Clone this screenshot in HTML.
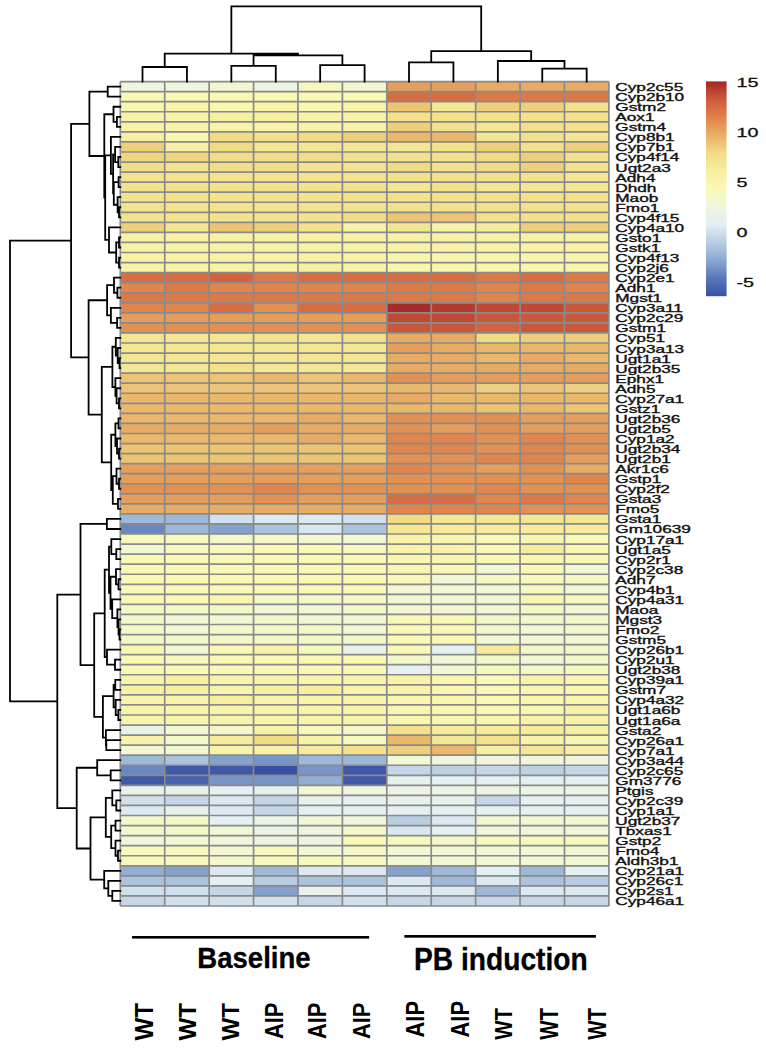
<!DOCTYPE html><html><head><meta charset="utf-8"><style>html,body{margin:0;padding:0;background:#fff;width:766px;height:1050px;overflow:hidden}svg{display:block}text{font-family:"Liberation Sans",sans-serif}</style></head><body>
<svg width="766" height="1050" viewBox="0 0 766 1050">
<g shape-rendering="crispEdges">
<rect x="120.30" y="81.60" width="44.42" height="10.05" fill="#eff6dd"/>
<rect x="164.72" y="81.60" width="44.42" height="10.05" fill="#eff6dd"/>
<rect x="209.14" y="81.60" width="44.42" height="10.05" fill="#f3f7cf"/>
<rect x="253.55" y="81.60" width="44.42" height="10.05" fill="#ecf4e4"/>
<rect x="297.97" y="81.60" width="44.42" height="10.05" fill="#f6f8c3"/>
<rect x="342.39" y="81.60" width="44.42" height="10.05" fill="#f3f7cf"/>
<rect x="386.81" y="81.60" width="44.42" height="10.05" fill="#e59e5b"/>
<rect x="431.23" y="81.60" width="44.42" height="10.05" fill="#e59e5b"/>
<rect x="475.65" y="81.60" width="44.42" height="10.05" fill="#e7ab63"/>
<rect x="520.06" y="81.60" width="44.42" height="10.05" fill="#e7ab63"/>
<rect x="564.48" y="81.60" width="44.42" height="10.05" fill="#e7ab63"/>
<rect x="120.30" y="91.65" width="44.42" height="10.05" fill="#f9f8b5"/>
<rect x="164.72" y="91.65" width="44.42" height="10.05" fill="#f9f8b5"/>
<rect x="209.14" y="91.65" width="44.42" height="10.05" fill="#f9f8b5"/>
<rect x="253.55" y="91.65" width="44.42" height="10.05" fill="#f9f8b5"/>
<rect x="297.97" y="91.65" width="44.42" height="10.05" fill="#f9f8b5"/>
<rect x="342.39" y="91.65" width="44.42" height="10.05" fill="#f9f8b5"/>
<rect x="386.81" y="91.65" width="44.42" height="10.05" fill="#d76e43"/>
<rect x="431.23" y="91.65" width="44.42" height="10.05" fill="#d76e43"/>
<rect x="475.65" y="91.65" width="44.42" height="10.05" fill="#dd7947"/>
<rect x="520.06" y="91.65" width="44.42" height="10.05" fill="#dd7947"/>
<rect x="564.48" y="91.65" width="44.42" height="10.05" fill="#dd7947"/>
<rect x="120.30" y="101.71" width="44.42" height="10.05" fill="#f8f6af"/>
<rect x="164.72" y="101.71" width="44.42" height="10.05" fill="#f8f3a9"/>
<rect x="209.14" y="101.71" width="44.42" height="10.05" fill="#f8f6af"/>
<rect x="253.55" y="101.71" width="44.42" height="10.05" fill="#f8f3a9"/>
<rect x="297.97" y="101.71" width="44.42" height="10.05" fill="#f8f6af"/>
<rect x="342.39" y="101.71" width="44.42" height="10.05" fill="#f8f3a9"/>
<rect x="386.81" y="101.71" width="44.42" height="10.05" fill="#ecc473"/>
<rect x="431.23" y="101.71" width="44.42" height="10.05" fill="#f4e794"/>
<rect x="475.65" y="101.71" width="44.42" height="10.05" fill="#eed07c"/>
<rect x="520.06" y="101.71" width="44.42" height="10.05" fill="#eed07c"/>
<rect x="564.48" y="101.71" width="44.42" height="10.05" fill="#f3e18c"/>
<rect x="120.30" y="111.76" width="44.42" height="10.05" fill="#f8f3a9"/>
<rect x="164.72" y="111.76" width="44.42" height="10.05" fill="#f8f3a9"/>
<rect x="209.14" y="111.76" width="44.42" height="10.05" fill="#f7f0a2"/>
<rect x="253.55" y="111.76" width="44.42" height="10.05" fill="#f7f0a2"/>
<rect x="297.97" y="111.76" width="44.42" height="10.05" fill="#f8f3a9"/>
<rect x="342.39" y="111.76" width="44.42" height="10.05" fill="#f8f3a9"/>
<rect x="386.81" y="111.76" width="44.42" height="10.05" fill="#f3e18c"/>
<rect x="431.23" y="111.76" width="44.42" height="10.05" fill="#f3e18c"/>
<rect x="475.65" y="111.76" width="44.42" height="10.05" fill="#f3e18c"/>
<rect x="520.06" y="111.76" width="44.42" height="10.05" fill="#f3e18c"/>
<rect x="564.48" y="111.76" width="44.42" height="10.05" fill="#f3e18c"/>
<rect x="120.30" y="121.81" width="44.42" height="10.05" fill="#f8f3a9"/>
<rect x="164.72" y="121.81" width="44.42" height="10.05" fill="#f8f3a9"/>
<rect x="209.14" y="121.81" width="44.42" height="10.05" fill="#f8f3a9"/>
<rect x="253.55" y="121.81" width="44.42" height="10.05" fill="#f8f3a9"/>
<rect x="297.97" y="121.81" width="44.42" height="10.05" fill="#f8f3a9"/>
<rect x="342.39" y="121.81" width="44.42" height="10.05" fill="#f8f3a9"/>
<rect x="386.81" y="121.81" width="44.42" height="10.05" fill="#eed07c"/>
<rect x="431.23" y="121.81" width="44.42" height="10.05" fill="#f3e18c"/>
<rect x="475.65" y="121.81" width="44.42" height="10.05" fill="#f4e794"/>
<rect x="520.06" y="121.81" width="44.42" height="10.05" fill="#f3e18c"/>
<rect x="564.48" y="121.81" width="44.42" height="10.05" fill="#f3e18c"/>
<rect x="120.30" y="131.87" width="44.42" height="10.05" fill="#f7f0a2"/>
<rect x="164.72" y="131.87" width="44.42" height="10.05" fill="#f8f6af"/>
<rect x="209.14" y="131.87" width="44.42" height="10.05" fill="#f1dc84"/>
<rect x="253.55" y="131.87" width="44.42" height="10.05" fill="#f3e18c"/>
<rect x="297.97" y="131.87" width="44.42" height="10.05" fill="#f1dc84"/>
<rect x="342.39" y="131.87" width="44.42" height="10.05" fill="#eed07c"/>
<rect x="386.81" y="131.87" width="44.42" height="10.05" fill="#eab76b"/>
<rect x="431.23" y="131.87" width="44.42" height="10.05" fill="#eab76b"/>
<rect x="475.65" y="131.87" width="44.42" height="10.05" fill="#f4e794"/>
<rect x="520.06" y="131.87" width="44.42" height="10.05" fill="#f3e18c"/>
<rect x="564.48" y="131.87" width="44.42" height="10.05" fill="#f4e794"/>
<rect x="120.30" y="141.92" width="44.42" height="10.05" fill="#eed07c"/>
<rect x="164.72" y="141.92" width="44.42" height="10.05" fill="#f7f0a2"/>
<rect x="209.14" y="141.92" width="44.42" height="10.05" fill="#f1dc84"/>
<rect x="253.55" y="141.92" width="44.42" height="10.05" fill="#f4e794"/>
<rect x="297.97" y="141.92" width="44.42" height="10.05" fill="#f4e794"/>
<rect x="342.39" y="141.92" width="44.42" height="10.05" fill="#f4e794"/>
<rect x="386.81" y="141.92" width="44.42" height="10.05" fill="#f4e794"/>
<rect x="431.23" y="141.92" width="44.42" height="10.05" fill="#f3e18c"/>
<rect x="475.65" y="141.92" width="44.42" height="10.05" fill="#eed07c"/>
<rect x="520.06" y="141.92" width="44.42" height="10.05" fill="#f3e18c"/>
<rect x="564.48" y="141.92" width="44.42" height="10.05" fill="#eed07c"/>
<rect x="120.30" y="151.98" width="44.42" height="10.05" fill="#f0d57f"/>
<rect x="164.72" y="151.98" width="44.42" height="10.05" fill="#f0d57f"/>
<rect x="209.14" y="151.98" width="44.42" height="10.05" fill="#f2de87"/>
<rect x="253.55" y="151.98" width="44.42" height="10.05" fill="#f2de87"/>
<rect x="297.97" y="151.98" width="44.42" height="10.05" fill="#f2de87"/>
<rect x="342.39" y="151.98" width="44.42" height="10.05" fill="#f3e38f"/>
<rect x="386.81" y="151.98" width="44.42" height="10.05" fill="#f3e18c"/>
<rect x="431.23" y="151.98" width="44.42" height="10.05" fill="#f3e18c"/>
<rect x="475.65" y="151.98" width="44.42" height="10.05" fill="#f1dc84"/>
<rect x="520.06" y="151.98" width="44.42" height="10.05" fill="#eed07c"/>
<rect x="564.48" y="151.98" width="44.42" height="10.05" fill="#f3e18c"/>
<rect x="120.30" y="162.03" width="44.42" height="10.05" fill="#f2de87"/>
<rect x="164.72" y="162.03" width="44.42" height="10.05" fill="#f3e38f"/>
<rect x="209.14" y="162.03" width="44.42" height="10.05" fill="#f2de87"/>
<rect x="253.55" y="162.03" width="44.42" height="10.05" fill="#f2de87"/>
<rect x="297.97" y="162.03" width="44.42" height="10.05" fill="#f3e38f"/>
<rect x="342.39" y="162.03" width="44.42" height="10.05" fill="#f3e38f"/>
<rect x="386.81" y="162.03" width="44.42" height="10.05" fill="#f1dc84"/>
<rect x="431.23" y="162.03" width="44.42" height="10.05" fill="#f3e18c"/>
<rect x="475.65" y="162.03" width="44.42" height="10.05" fill="#f1dc84"/>
<rect x="520.06" y="162.03" width="44.42" height="10.05" fill="#eed07c"/>
<rect x="564.48" y="162.03" width="44.42" height="10.05" fill="#f3e18c"/>
<rect x="120.30" y="172.08" width="44.42" height="10.05" fill="#f3e38f"/>
<rect x="164.72" y="172.08" width="44.42" height="10.05" fill="#f3e38f"/>
<rect x="209.14" y="172.08" width="44.42" height="10.05" fill="#f3e38f"/>
<rect x="253.55" y="172.08" width="44.42" height="10.05" fill="#f3e38f"/>
<rect x="297.97" y="172.08" width="44.42" height="10.05" fill="#f3e38f"/>
<rect x="342.39" y="172.08" width="44.42" height="10.05" fill="#f3e38f"/>
<rect x="386.81" y="172.08" width="44.42" height="10.05" fill="#f3e18c"/>
<rect x="431.23" y="172.08" width="44.42" height="10.05" fill="#f3e18c"/>
<rect x="475.65" y="172.08" width="44.42" height="10.05" fill="#f3e18c"/>
<rect x="520.06" y="172.08" width="44.42" height="10.05" fill="#f3e18c"/>
<rect x="564.48" y="172.08" width="44.42" height="10.05" fill="#f4e794"/>
<rect x="120.30" y="182.14" width="44.42" height="10.05" fill="#f3e38f"/>
<rect x="164.72" y="182.14" width="44.42" height="10.05" fill="#f3e38f"/>
<rect x="209.14" y="182.14" width="44.42" height="10.05" fill="#f3e38f"/>
<rect x="253.55" y="182.14" width="44.42" height="10.05" fill="#f3e38f"/>
<rect x="297.97" y="182.14" width="44.42" height="10.05" fill="#f3e38f"/>
<rect x="342.39" y="182.14" width="44.42" height="10.05" fill="#f3e38f"/>
<rect x="386.81" y="182.14" width="44.42" height="10.05" fill="#f4e794"/>
<rect x="431.23" y="182.14" width="44.42" height="10.05" fill="#f3e18c"/>
<rect x="475.65" y="182.14" width="44.42" height="10.05" fill="#f4e794"/>
<rect x="520.06" y="182.14" width="44.42" height="10.05" fill="#f4e794"/>
<rect x="564.48" y="182.14" width="44.42" height="10.05" fill="#f4e794"/>
<rect x="120.30" y="192.19" width="44.42" height="10.05" fill="#f3e38f"/>
<rect x="164.72" y="192.19" width="44.42" height="10.05" fill="#f3e38f"/>
<rect x="209.14" y="192.19" width="44.42" height="10.05" fill="#f3e38f"/>
<rect x="253.55" y="192.19" width="44.42" height="10.05" fill="#f3e38f"/>
<rect x="297.97" y="192.19" width="44.42" height="10.05" fill="#f3e38f"/>
<rect x="342.39" y="192.19" width="44.42" height="10.05" fill="#f3e38f"/>
<rect x="386.81" y="192.19" width="44.42" height="10.05" fill="#f3e18c"/>
<rect x="431.23" y="192.19" width="44.42" height="10.05" fill="#f3e18c"/>
<rect x="475.65" y="192.19" width="44.42" height="10.05" fill="#f3e18c"/>
<rect x="520.06" y="192.19" width="44.42" height="10.05" fill="#f3e18c"/>
<rect x="564.48" y="192.19" width="44.42" height="10.05" fill="#f3e18c"/>
<rect x="120.30" y="202.24" width="44.42" height="10.05" fill="#f3e38f"/>
<rect x="164.72" y="202.24" width="44.42" height="10.05" fill="#f3e38f"/>
<rect x="209.14" y="202.24" width="44.42" height="10.05" fill="#f3e38f"/>
<rect x="253.55" y="202.24" width="44.42" height="10.05" fill="#f3e38f"/>
<rect x="297.97" y="202.24" width="44.42" height="10.05" fill="#f3e38f"/>
<rect x="342.39" y="202.24" width="44.42" height="10.05" fill="#f3e38f"/>
<rect x="386.81" y="202.24" width="44.42" height="10.05" fill="#f3e18c"/>
<rect x="431.23" y="202.24" width="44.42" height="10.05" fill="#f3e18c"/>
<rect x="475.65" y="202.24" width="44.42" height="10.05" fill="#f3e18c"/>
<rect x="520.06" y="202.24" width="44.42" height="10.05" fill="#f3e18c"/>
<rect x="564.48" y="202.24" width="44.42" height="10.05" fill="#f3e18c"/>
<rect x="120.30" y="212.30" width="44.42" height="10.05" fill="#f3e38f"/>
<rect x="164.72" y="212.30" width="44.42" height="10.05" fill="#f3e38f"/>
<rect x="209.14" y="212.30" width="44.42" height="10.05" fill="#f3e38f"/>
<rect x="253.55" y="212.30" width="44.42" height="10.05" fill="#f3e38f"/>
<rect x="297.97" y="212.30" width="44.42" height="10.05" fill="#f3e38f"/>
<rect x="342.39" y="212.30" width="44.42" height="10.05" fill="#f2de87"/>
<rect x="386.81" y="212.30" width="44.42" height="10.05" fill="#ecc473"/>
<rect x="431.23" y="212.30" width="44.42" height="10.05" fill="#ecc473"/>
<rect x="475.65" y="212.30" width="44.42" height="10.05" fill="#f3e18c"/>
<rect x="520.06" y="212.30" width="44.42" height="10.05" fill="#f3e18c"/>
<rect x="564.48" y="212.30" width="44.42" height="10.05" fill="#f3e18c"/>
<rect x="120.30" y="222.35" width="44.42" height="10.05" fill="#eed07c"/>
<rect x="164.72" y="222.35" width="44.42" height="10.05" fill="#f4e794"/>
<rect x="209.14" y="222.35" width="44.42" height="10.05" fill="#ecc473"/>
<rect x="253.55" y="222.35" width="44.42" height="10.05" fill="#eed07c"/>
<rect x="297.97" y="222.35" width="44.42" height="10.05" fill="#f3e18c"/>
<rect x="342.39" y="222.35" width="44.42" height="10.05" fill="#f8f3a9"/>
<rect x="386.81" y="222.35" width="44.42" height="10.05" fill="#f4e794"/>
<rect x="431.23" y="222.35" width="44.42" height="10.05" fill="#f8f3a9"/>
<rect x="475.65" y="222.35" width="44.42" height="10.05" fill="#f6ec9b"/>
<rect x="520.06" y="222.35" width="44.42" height="10.05" fill="#eed07c"/>
<rect x="564.48" y="222.35" width="44.42" height="10.05" fill="#eed07c"/>
<rect x="120.30" y="232.40" width="44.42" height="10.05" fill="#f8f2a7"/>
<rect x="164.72" y="232.40" width="44.42" height="10.05" fill="#f8f2a7"/>
<rect x="209.14" y="232.40" width="44.42" height="10.05" fill="#f8f2a7"/>
<rect x="253.55" y="232.40" width="44.42" height="10.05" fill="#f8f2a7"/>
<rect x="297.97" y="232.40" width="44.42" height="10.05" fill="#f8f2a7"/>
<rect x="342.39" y="232.40" width="44.42" height="10.05" fill="#f8f2a7"/>
<rect x="386.81" y="232.40" width="44.42" height="10.05" fill="#f8f2a7"/>
<rect x="431.23" y="232.40" width="44.42" height="10.05" fill="#f8f2a7"/>
<rect x="475.65" y="232.40" width="44.42" height="10.05" fill="#f8f2a7"/>
<rect x="520.06" y="232.40" width="44.42" height="10.05" fill="#f8f2a7"/>
<rect x="564.48" y="232.40" width="44.42" height="10.05" fill="#f8f2a7"/>
<rect x="120.30" y="242.46" width="44.42" height="10.05" fill="#f8f2a7"/>
<rect x="164.72" y="242.46" width="44.42" height="10.05" fill="#f8f2a7"/>
<rect x="209.14" y="242.46" width="44.42" height="10.05" fill="#f8f2a7"/>
<rect x="253.55" y="242.46" width="44.42" height="10.05" fill="#f8f2a7"/>
<rect x="297.97" y="242.46" width="44.42" height="10.05" fill="#f8f2a7"/>
<rect x="342.39" y="242.46" width="44.42" height="10.05" fill="#f8f2a7"/>
<rect x="386.81" y="242.46" width="44.42" height="10.05" fill="#f8f2a7"/>
<rect x="431.23" y="242.46" width="44.42" height="10.05" fill="#f8f2a7"/>
<rect x="475.65" y="242.46" width="44.42" height="10.05" fill="#f8f2a7"/>
<rect x="520.06" y="242.46" width="44.42" height="10.05" fill="#f8f2a7"/>
<rect x="564.48" y="242.46" width="44.42" height="10.05" fill="#f8f2a7"/>
<rect x="120.30" y="252.51" width="44.42" height="10.05" fill="#f8f2a7"/>
<rect x="164.72" y="252.51" width="44.42" height="10.05" fill="#f8f2a7"/>
<rect x="209.14" y="252.51" width="44.42" height="10.05" fill="#f8f2a7"/>
<rect x="253.55" y="252.51" width="44.42" height="10.05" fill="#f8f2a7"/>
<rect x="297.97" y="252.51" width="44.42" height="10.05" fill="#f8f2a7"/>
<rect x="342.39" y="252.51" width="44.42" height="10.05" fill="#f8f2a7"/>
<rect x="386.81" y="252.51" width="44.42" height="10.05" fill="#f8f5ad"/>
<rect x="431.23" y="252.51" width="44.42" height="10.05" fill="#f8f5ad"/>
<rect x="475.65" y="252.51" width="44.42" height="10.05" fill="#f8f5ad"/>
<rect x="520.06" y="252.51" width="44.42" height="10.05" fill="#f8f5ad"/>
<rect x="564.48" y="252.51" width="44.42" height="10.05" fill="#f8f5ad"/>
<rect x="120.30" y="262.57" width="44.42" height="10.05" fill="#f8f2a7"/>
<rect x="164.72" y="262.57" width="44.42" height="10.05" fill="#f8f2a7"/>
<rect x="209.14" y="262.57" width="44.42" height="10.05" fill="#f8f2a7"/>
<rect x="253.55" y="262.57" width="44.42" height="10.05" fill="#f8f2a7"/>
<rect x="297.97" y="262.57" width="44.42" height="10.05" fill="#f7f0a1"/>
<rect x="342.39" y="262.57" width="44.42" height="10.05" fill="#f8f2a7"/>
<rect x="386.81" y="262.57" width="44.42" height="10.05" fill="#f8f5ad"/>
<rect x="431.23" y="262.57" width="44.42" height="10.05" fill="#f8f5ad"/>
<rect x="475.65" y="262.57" width="44.42" height="10.05" fill="#f8f5ad"/>
<rect x="520.06" y="262.57" width="44.42" height="10.05" fill="#f8f5ad"/>
<rect x="564.48" y="262.57" width="44.42" height="10.05" fill="#f8f5ad"/>
<rect x="120.30" y="272.62" width="44.42" height="10.05" fill="#d76e43"/>
<rect x="164.72" y="272.62" width="44.42" height="10.05" fill="#d76e43"/>
<rect x="209.14" y="272.62" width="44.42" height="10.05" fill="#d1633f"/>
<rect x="253.55" y="272.62" width="44.42" height="10.05" fill="#dd7947"/>
<rect x="297.97" y="272.62" width="44.42" height="10.05" fill="#d76e43"/>
<rect x="342.39" y="272.62" width="44.42" height="10.05" fill="#d76e43"/>
<rect x="386.81" y="272.62" width="44.42" height="10.05" fill="#d76e43"/>
<rect x="431.23" y="272.62" width="44.42" height="10.05" fill="#d76e43"/>
<rect x="475.65" y="272.62" width="44.42" height="10.05" fill="#dd7947"/>
<rect x="520.06" y="272.62" width="44.42" height="10.05" fill="#d76e43"/>
<rect x="564.48" y="272.62" width="44.42" height="10.05" fill="#dd7947"/>
<rect x="120.30" y="282.67" width="44.42" height="10.05" fill="#e1854c"/>
<rect x="164.72" y="282.67" width="44.42" height="10.05" fill="#dd7947"/>
<rect x="209.14" y="282.67" width="44.42" height="10.05" fill="#e1854c"/>
<rect x="253.55" y="282.67" width="44.42" height="10.05" fill="#e1854c"/>
<rect x="297.97" y="282.67" width="44.42" height="10.05" fill="#e1854c"/>
<rect x="342.39" y="282.67" width="44.42" height="10.05" fill="#e1854c"/>
<rect x="386.81" y="282.67" width="44.42" height="10.05" fill="#dd7947"/>
<rect x="431.23" y="282.67" width="44.42" height="10.05" fill="#dd7947"/>
<rect x="475.65" y="282.67" width="44.42" height="10.05" fill="#e1854c"/>
<rect x="520.06" y="282.67" width="44.42" height="10.05" fill="#dd7947"/>
<rect x="564.48" y="282.67" width="44.42" height="10.05" fill="#e1854c"/>
<rect x="120.30" y="292.73" width="44.42" height="10.05" fill="#dd7947"/>
<rect x="164.72" y="292.73" width="44.42" height="10.05" fill="#dd7947"/>
<rect x="209.14" y="292.73" width="44.42" height="10.05" fill="#dd7947"/>
<rect x="253.55" y="292.73" width="44.42" height="10.05" fill="#dd7947"/>
<rect x="297.97" y="292.73" width="44.42" height="10.05" fill="#dd7947"/>
<rect x="342.39" y="292.73" width="44.42" height="10.05" fill="#dd7947"/>
<rect x="386.81" y="292.73" width="44.42" height="10.05" fill="#dd7947"/>
<rect x="431.23" y="292.73" width="44.42" height="10.05" fill="#dd7947"/>
<rect x="475.65" y="292.73" width="44.42" height="10.05" fill="#e1854c"/>
<rect x="520.06" y="292.73" width="44.42" height="10.05" fill="#dd7947"/>
<rect x="564.48" y="292.73" width="44.42" height="10.05" fill="#dd7947"/>
<rect x="120.30" y="302.78" width="44.42" height="10.05" fill="#e1854c"/>
<rect x="164.72" y="302.78" width="44.42" height="10.05" fill="#e1854c"/>
<rect x="209.14" y="302.78" width="44.42" height="10.05" fill="#d76e43"/>
<rect x="253.55" y="302.78" width="44.42" height="10.05" fill="#e39153"/>
<rect x="297.97" y="302.78" width="44.42" height="10.05" fill="#d76e43"/>
<rect x="342.39" y="302.78" width="44.42" height="10.05" fill="#d76e43"/>
<rect x="386.81" y="302.78" width="44.42" height="10.05" fill="#a92b28"/>
<rect x="431.23" y="302.78" width="44.42" height="10.05" fill="#b53a2e"/>
<rect x="475.65" y="302.78" width="44.42" height="10.05" fill="#c04834"/>
<rect x="520.06" y="302.78" width="44.42" height="10.05" fill="#c04834"/>
<rect x="564.48" y="302.78" width="44.42" height="10.05" fill="#cb573b"/>
<rect x="120.30" y="312.83" width="44.42" height="10.05" fill="#e59e5b"/>
<rect x="164.72" y="312.83" width="44.42" height="10.05" fill="#e59e5b"/>
<rect x="209.14" y="312.83" width="44.42" height="10.05" fill="#e59e5b"/>
<rect x="253.55" y="312.83" width="44.42" height="10.05" fill="#e59e5b"/>
<rect x="297.97" y="312.83" width="44.42" height="10.05" fill="#e59e5b"/>
<rect x="342.39" y="312.83" width="44.42" height="10.05" fill="#e59e5b"/>
<rect x="386.81" y="312.83" width="44.42" height="10.05" fill="#c04834"/>
<rect x="431.23" y="312.83" width="44.42" height="10.05" fill="#c04834"/>
<rect x="475.65" y="312.83" width="44.42" height="10.05" fill="#cb573b"/>
<rect x="520.06" y="312.83" width="44.42" height="10.05" fill="#cb573b"/>
<rect x="564.48" y="312.83" width="44.42" height="10.05" fill="#cb573b"/>
<rect x="120.30" y="322.89" width="44.42" height="10.05" fill="#e39153"/>
<rect x="164.72" y="322.89" width="44.42" height="10.05" fill="#e39153"/>
<rect x="209.14" y="322.89" width="44.42" height="10.05" fill="#e39153"/>
<rect x="253.55" y="322.89" width="44.42" height="10.05" fill="#e39153"/>
<rect x="297.97" y="322.89" width="44.42" height="10.05" fill="#e39153"/>
<rect x="342.39" y="322.89" width="44.42" height="10.05" fill="#e39153"/>
<rect x="386.81" y="322.89" width="44.42" height="10.05" fill="#cb573b"/>
<rect x="431.23" y="322.89" width="44.42" height="10.05" fill="#cb573b"/>
<rect x="475.65" y="322.89" width="44.42" height="10.05" fill="#d1633f"/>
<rect x="520.06" y="322.89" width="44.42" height="10.05" fill="#cb573b"/>
<rect x="564.48" y="322.89" width="44.42" height="10.05" fill="#cb573b"/>
<rect x="120.30" y="332.94" width="44.42" height="10.05" fill="#f4e794"/>
<rect x="164.72" y="332.94" width="44.42" height="10.05" fill="#f4e794"/>
<rect x="209.14" y="332.94" width="44.42" height="10.05" fill="#f4e794"/>
<rect x="253.55" y="332.94" width="44.42" height="10.05" fill="#f3e18c"/>
<rect x="297.97" y="332.94" width="44.42" height="10.05" fill="#f4e794"/>
<rect x="342.39" y="332.94" width="44.42" height="10.05" fill="#f3e18c"/>
<rect x="386.81" y="332.94" width="44.42" height="10.05" fill="#e7ab63"/>
<rect x="431.23" y="332.94" width="44.42" height="10.05" fill="#e7ab63"/>
<rect x="475.65" y="332.94" width="44.42" height="10.05" fill="#f1dc84"/>
<rect x="520.06" y="332.94" width="44.42" height="10.05" fill="#eed07c"/>
<rect x="564.48" y="332.94" width="44.42" height="10.05" fill="#eed07c"/>
<rect x="120.30" y="343.00" width="44.42" height="10.05" fill="#f4e794"/>
<rect x="164.72" y="343.00" width="44.42" height="10.05" fill="#f4e794"/>
<rect x="209.14" y="343.00" width="44.42" height="10.05" fill="#f4e794"/>
<rect x="253.55" y="343.00" width="44.42" height="10.05" fill="#f4e794"/>
<rect x="297.97" y="343.00" width="44.42" height="10.05" fill="#f4e794"/>
<rect x="342.39" y="343.00" width="44.42" height="10.05" fill="#f4e794"/>
<rect x="386.81" y="343.00" width="44.42" height="10.05" fill="#e59e5b"/>
<rect x="431.23" y="343.00" width="44.42" height="10.05" fill="#e7ab63"/>
<rect x="475.65" y="343.00" width="44.42" height="10.05" fill="#eab76b"/>
<rect x="520.06" y="343.00" width="44.42" height="10.05" fill="#eab76b"/>
<rect x="564.48" y="343.00" width="44.42" height="10.05" fill="#eab76b"/>
<rect x="120.30" y="353.05" width="44.42" height="10.05" fill="#f4e794"/>
<rect x="164.72" y="353.05" width="44.42" height="10.05" fill="#f4e794"/>
<rect x="209.14" y="353.05" width="44.42" height="10.05" fill="#f4e794"/>
<rect x="253.55" y="353.05" width="44.42" height="10.05" fill="#f4e794"/>
<rect x="297.97" y="353.05" width="44.42" height="10.05" fill="#f4e794"/>
<rect x="342.39" y="353.05" width="44.42" height="10.05" fill="#f4e794"/>
<rect x="386.81" y="353.05" width="44.42" height="10.05" fill="#e7ab63"/>
<rect x="431.23" y="353.05" width="44.42" height="10.05" fill="#e7ab63"/>
<rect x="475.65" y="353.05" width="44.42" height="10.05" fill="#eab76b"/>
<rect x="520.06" y="353.05" width="44.42" height="10.05" fill="#e7ab63"/>
<rect x="564.48" y="353.05" width="44.42" height="10.05" fill="#eab76b"/>
<rect x="120.30" y="363.10" width="44.42" height="10.05" fill="#f4e794"/>
<rect x="164.72" y="363.10" width="44.42" height="10.05" fill="#f4e794"/>
<rect x="209.14" y="363.10" width="44.42" height="10.05" fill="#f3e18c"/>
<rect x="253.55" y="363.10" width="44.42" height="10.05" fill="#f4e794"/>
<rect x="297.97" y="363.10" width="44.42" height="10.05" fill="#f4e794"/>
<rect x="342.39" y="363.10" width="44.42" height="10.05" fill="#f4e794"/>
<rect x="386.81" y="363.10" width="44.42" height="10.05" fill="#e7ab63"/>
<rect x="431.23" y="363.10" width="44.42" height="10.05" fill="#e7ab63"/>
<rect x="475.65" y="363.10" width="44.42" height="10.05" fill="#e7ab63"/>
<rect x="520.06" y="363.10" width="44.42" height="10.05" fill="#e7ab63"/>
<rect x="564.48" y="363.10" width="44.42" height="10.05" fill="#e7ab63"/>
<rect x="120.30" y="373.16" width="44.42" height="10.05" fill="#ecc473"/>
<rect x="164.72" y="373.16" width="44.42" height="10.05" fill="#ecc473"/>
<rect x="209.14" y="373.16" width="44.42" height="10.05" fill="#ecc473"/>
<rect x="253.55" y="373.16" width="44.42" height="10.05" fill="#eab76b"/>
<rect x="297.97" y="373.16" width="44.42" height="10.05" fill="#ecc473"/>
<rect x="342.39" y="373.16" width="44.42" height="10.05" fill="#eab76b"/>
<rect x="386.81" y="373.16" width="44.42" height="10.05" fill="#e39153"/>
<rect x="431.23" y="373.16" width="44.42" height="10.05" fill="#e59e5b"/>
<rect x="475.65" y="373.16" width="44.42" height="10.05" fill="#e59e5b"/>
<rect x="520.06" y="373.16" width="44.42" height="10.05" fill="#e59e5b"/>
<rect x="564.48" y="373.16" width="44.42" height="10.05" fill="#e59e5b"/>
<rect x="120.30" y="383.21" width="44.42" height="10.05" fill="#ecc473"/>
<rect x="164.72" y="383.21" width="44.42" height="10.05" fill="#ecc473"/>
<rect x="209.14" y="383.21" width="44.42" height="10.05" fill="#ecc473"/>
<rect x="253.55" y="383.21" width="44.42" height="10.05" fill="#ecc473"/>
<rect x="297.97" y="383.21" width="44.42" height="10.05" fill="#ecc473"/>
<rect x="342.39" y="383.21" width="44.42" height="10.05" fill="#ecc473"/>
<rect x="386.81" y="383.21" width="44.42" height="10.05" fill="#eab76b"/>
<rect x="431.23" y="383.21" width="44.42" height="10.05" fill="#eab76b"/>
<rect x="475.65" y="383.21" width="44.42" height="10.05" fill="#eed07c"/>
<rect x="520.06" y="383.21" width="44.42" height="10.05" fill="#ecc473"/>
<rect x="564.48" y="383.21" width="44.42" height="10.05" fill="#eed07c"/>
<rect x="120.30" y="393.26" width="44.42" height="10.05" fill="#eab76b"/>
<rect x="164.72" y="393.26" width="44.42" height="10.05" fill="#eab76b"/>
<rect x="209.14" y="393.26" width="44.42" height="10.05" fill="#eab76b"/>
<rect x="253.55" y="393.26" width="44.42" height="10.05" fill="#eab76b"/>
<rect x="297.97" y="393.26" width="44.42" height="10.05" fill="#eab76b"/>
<rect x="342.39" y="393.26" width="44.42" height="10.05" fill="#eab76b"/>
<rect x="386.81" y="393.26" width="44.42" height="10.05" fill="#e7ab63"/>
<rect x="431.23" y="393.26" width="44.42" height="10.05" fill="#eab76b"/>
<rect x="475.65" y="393.26" width="44.42" height="10.05" fill="#eab76b"/>
<rect x="520.06" y="393.26" width="44.42" height="10.05" fill="#eab76b"/>
<rect x="564.48" y="393.26" width="44.42" height="10.05" fill="#eab76b"/>
<rect x="120.30" y="403.32" width="44.42" height="10.05" fill="#eab76b"/>
<rect x="164.72" y="403.32" width="44.42" height="10.05" fill="#eab76b"/>
<rect x="209.14" y="403.32" width="44.42" height="10.05" fill="#eab76b"/>
<rect x="253.55" y="403.32" width="44.42" height="10.05" fill="#eab76b"/>
<rect x="297.97" y="403.32" width="44.42" height="10.05" fill="#eab76b"/>
<rect x="342.39" y="403.32" width="44.42" height="10.05" fill="#eab76b"/>
<rect x="386.81" y="403.32" width="44.42" height="10.05" fill="#eab76b"/>
<rect x="431.23" y="403.32" width="44.42" height="10.05" fill="#eab76b"/>
<rect x="475.65" y="403.32" width="44.42" height="10.05" fill="#ecc473"/>
<rect x="520.06" y="403.32" width="44.42" height="10.05" fill="#eab76b"/>
<rect x="564.48" y="403.32" width="44.42" height="10.05" fill="#ecc473"/>
<rect x="120.30" y="413.37" width="44.42" height="10.05" fill="#eab76b"/>
<rect x="164.72" y="413.37" width="44.42" height="10.05" fill="#eab76b"/>
<rect x="209.14" y="413.37" width="44.42" height="10.05" fill="#eab76b"/>
<rect x="253.55" y="413.37" width="44.42" height="10.05" fill="#eab76b"/>
<rect x="297.97" y="413.37" width="44.42" height="10.05" fill="#e7ab63"/>
<rect x="342.39" y="413.37" width="44.42" height="10.05" fill="#eab76b"/>
<rect x="386.81" y="413.37" width="44.42" height="10.05" fill="#e39153"/>
<rect x="431.23" y="413.37" width="44.42" height="10.05" fill="#e39153"/>
<rect x="475.65" y="413.37" width="44.42" height="10.05" fill="#e39153"/>
<rect x="520.06" y="413.37" width="44.42" height="10.05" fill="#e59e5b"/>
<rect x="564.48" y="413.37" width="44.42" height="10.05" fill="#e59e5b"/>
<rect x="120.30" y="423.42" width="44.42" height="10.05" fill="#e7ab63"/>
<rect x="164.72" y="423.42" width="44.42" height="10.05" fill="#e7ab63"/>
<rect x="209.14" y="423.42" width="44.42" height="10.05" fill="#e7ab63"/>
<rect x="253.55" y="423.42" width="44.42" height="10.05" fill="#e59e5b"/>
<rect x="297.97" y="423.42" width="44.42" height="10.05" fill="#e7ab63"/>
<rect x="342.39" y="423.42" width="44.42" height="10.05" fill="#e7ab63"/>
<rect x="386.81" y="423.42" width="44.42" height="10.05" fill="#e39153"/>
<rect x="431.23" y="423.42" width="44.42" height="10.05" fill="#e59e5b"/>
<rect x="475.65" y="423.42" width="44.42" height="10.05" fill="#e39153"/>
<rect x="520.06" y="423.42" width="44.42" height="10.05" fill="#e59e5b"/>
<rect x="564.48" y="423.42" width="44.42" height="10.05" fill="#e59e5b"/>
<rect x="120.30" y="433.48" width="44.42" height="10.05" fill="#eab76b"/>
<rect x="164.72" y="433.48" width="44.42" height="10.05" fill="#eab76b"/>
<rect x="209.14" y="433.48" width="44.42" height="10.05" fill="#eab76b"/>
<rect x="253.55" y="433.48" width="44.42" height="10.05" fill="#eab76b"/>
<rect x="297.97" y="433.48" width="44.42" height="10.05" fill="#e7ab63"/>
<rect x="342.39" y="433.48" width="44.42" height="10.05" fill="#eab76b"/>
<rect x="386.81" y="433.48" width="44.42" height="10.05" fill="#e1854c"/>
<rect x="431.23" y="433.48" width="44.42" height="10.05" fill="#e1854c"/>
<rect x="475.65" y="433.48" width="44.42" height="10.05" fill="#e39153"/>
<rect x="520.06" y="433.48" width="44.42" height="10.05" fill="#e1854c"/>
<rect x="564.48" y="433.48" width="44.42" height="10.05" fill="#e39153"/>
<rect x="120.30" y="443.53" width="44.42" height="10.05" fill="#ecc473"/>
<rect x="164.72" y="443.53" width="44.42" height="10.05" fill="#ecc473"/>
<rect x="209.14" y="443.53" width="44.42" height="10.05" fill="#ecc473"/>
<rect x="253.55" y="443.53" width="44.42" height="10.05" fill="#ecc473"/>
<rect x="297.97" y="443.53" width="44.42" height="10.05" fill="#ecc473"/>
<rect x="342.39" y="443.53" width="44.42" height="10.05" fill="#ecc473"/>
<rect x="386.81" y="443.53" width="44.42" height="10.05" fill="#e1854c"/>
<rect x="431.23" y="443.53" width="44.42" height="10.05" fill="#e1854c"/>
<rect x="475.65" y="443.53" width="44.42" height="10.05" fill="#e39153"/>
<rect x="520.06" y="443.53" width="44.42" height="10.05" fill="#e1854c"/>
<rect x="564.48" y="443.53" width="44.42" height="10.05" fill="#e39153"/>
<rect x="120.30" y="453.59" width="44.42" height="10.05" fill="#ecc473"/>
<rect x="164.72" y="453.59" width="44.42" height="10.05" fill="#ecc473"/>
<rect x="209.14" y="453.59" width="44.42" height="10.05" fill="#ecc473"/>
<rect x="253.55" y="453.59" width="44.42" height="10.05" fill="#ecc473"/>
<rect x="297.97" y="453.59" width="44.42" height="10.05" fill="#ecc473"/>
<rect x="342.39" y="453.59" width="44.42" height="10.05" fill="#ecc473"/>
<rect x="386.81" y="453.59" width="44.42" height="10.05" fill="#e39153"/>
<rect x="431.23" y="453.59" width="44.42" height="10.05" fill="#e39153"/>
<rect x="475.65" y="453.59" width="44.42" height="10.05" fill="#e1854c"/>
<rect x="520.06" y="453.59" width="44.42" height="10.05" fill="#e1854c"/>
<rect x="564.48" y="453.59" width="44.42" height="10.05" fill="#e59e5b"/>
<rect x="120.30" y="463.64" width="44.42" height="10.05" fill="#e59e5b"/>
<rect x="164.72" y="463.64" width="44.42" height="10.05" fill="#e59e5b"/>
<rect x="209.14" y="463.64" width="44.42" height="10.05" fill="#e59e5b"/>
<rect x="253.55" y="463.64" width="44.42" height="10.05" fill="#e59e5b"/>
<rect x="297.97" y="463.64" width="44.42" height="10.05" fill="#e59e5b"/>
<rect x="342.39" y="463.64" width="44.42" height="10.05" fill="#e59e5b"/>
<rect x="386.81" y="463.64" width="44.42" height="10.05" fill="#e1854c"/>
<rect x="431.23" y="463.64" width="44.42" height="10.05" fill="#e39153"/>
<rect x="475.65" y="463.64" width="44.42" height="10.05" fill="#e59e5b"/>
<rect x="520.06" y="463.64" width="44.42" height="10.05" fill="#e39153"/>
<rect x="564.48" y="463.64" width="44.42" height="10.05" fill="#e7ab63"/>
<rect x="120.30" y="473.69" width="44.42" height="10.05" fill="#e59e5b"/>
<rect x="164.72" y="473.69" width="44.42" height="10.05" fill="#e59e5b"/>
<rect x="209.14" y="473.69" width="44.42" height="10.05" fill="#e59e5b"/>
<rect x="253.55" y="473.69" width="44.42" height="10.05" fill="#e59e5b"/>
<rect x="297.97" y="473.69" width="44.42" height="10.05" fill="#e59e5b"/>
<rect x="342.39" y="473.69" width="44.42" height="10.05" fill="#e59e5b"/>
<rect x="386.81" y="473.69" width="44.42" height="10.05" fill="#e39153"/>
<rect x="431.23" y="473.69" width="44.42" height="10.05" fill="#e39153"/>
<rect x="475.65" y="473.69" width="44.42" height="10.05" fill="#e39153"/>
<rect x="520.06" y="473.69" width="44.42" height="10.05" fill="#e39153"/>
<rect x="564.48" y="473.69" width="44.42" height="10.05" fill="#e1854c"/>
<rect x="120.30" y="483.75" width="44.42" height="10.05" fill="#e39153"/>
<rect x="164.72" y="483.75" width="44.42" height="10.05" fill="#e39153"/>
<rect x="209.14" y="483.75" width="44.42" height="10.05" fill="#e39153"/>
<rect x="253.55" y="483.75" width="44.42" height="10.05" fill="#e1854c"/>
<rect x="297.97" y="483.75" width="44.42" height="10.05" fill="#e39153"/>
<rect x="342.39" y="483.75" width="44.42" height="10.05" fill="#e39153"/>
<rect x="386.81" y="483.75" width="44.42" height="10.05" fill="#e39153"/>
<rect x="431.23" y="483.75" width="44.42" height="10.05" fill="#e39153"/>
<rect x="475.65" y="483.75" width="44.42" height="10.05" fill="#e1854c"/>
<rect x="520.06" y="483.75" width="44.42" height="10.05" fill="#e39153"/>
<rect x="564.48" y="483.75" width="44.42" height="10.05" fill="#e39153"/>
<rect x="120.30" y="493.80" width="44.42" height="10.05" fill="#e59e5b"/>
<rect x="164.72" y="493.80" width="44.42" height="10.05" fill="#e59e5b"/>
<rect x="209.14" y="493.80" width="44.42" height="10.05" fill="#e59e5b"/>
<rect x="253.55" y="493.80" width="44.42" height="10.05" fill="#e39153"/>
<rect x="297.97" y="493.80" width="44.42" height="10.05" fill="#e59e5b"/>
<rect x="342.39" y="493.80" width="44.42" height="10.05" fill="#e59e5b"/>
<rect x="386.81" y="493.80" width="44.42" height="10.05" fill="#d76e43"/>
<rect x="431.23" y="493.80" width="44.42" height="10.05" fill="#d76e43"/>
<rect x="475.65" y="493.80" width="44.42" height="10.05" fill="#e1854c"/>
<rect x="520.06" y="493.80" width="44.42" height="10.05" fill="#dd7947"/>
<rect x="564.48" y="493.80" width="44.42" height="10.05" fill="#e1854c"/>
<rect x="120.30" y="503.85" width="44.42" height="10.05" fill="#e7ab63"/>
<rect x="164.72" y="503.85" width="44.42" height="10.05" fill="#e7ab63"/>
<rect x="209.14" y="503.85" width="44.42" height="10.05" fill="#e7ab63"/>
<rect x="253.55" y="503.85" width="44.42" height="10.05" fill="#e7ab63"/>
<rect x="297.97" y="503.85" width="44.42" height="10.05" fill="#e7ab63"/>
<rect x="342.39" y="503.85" width="44.42" height="10.05" fill="#e7ab63"/>
<rect x="386.81" y="503.85" width="44.42" height="10.05" fill="#e1854c"/>
<rect x="431.23" y="503.85" width="44.42" height="10.05" fill="#e1854c"/>
<rect x="475.65" y="503.85" width="44.42" height="10.05" fill="#e1854c"/>
<rect x="520.06" y="503.85" width="44.42" height="10.05" fill="#e39153"/>
<rect x="564.48" y="503.85" width="44.42" height="10.05" fill="#e39153"/>
<rect x="120.30" y="513.91" width="44.42" height="10.05" fill="#9eb8d8"/>
<rect x="164.72" y="513.91" width="44.42" height="10.05" fill="#9eb8d8"/>
<rect x="209.14" y="513.91" width="44.42" height="10.05" fill="#d0e0ec"/>
<rect x="253.55" y="513.91" width="44.42" height="10.05" fill="#dce9f1"/>
<rect x="297.97" y="513.91" width="44.42" height="10.05" fill="#dce9f1"/>
<rect x="342.39" y="513.91" width="44.42" height="10.05" fill="#d0e0ec"/>
<rect x="386.81" y="513.91" width="44.42" height="10.05" fill="#f1dc84"/>
<rect x="431.23" y="513.91" width="44.42" height="10.05" fill="#f4e794"/>
<rect x="475.65" y="513.91" width="44.42" height="10.05" fill="#f4e794"/>
<rect x="520.06" y="513.91" width="44.42" height="10.05" fill="#f4e794"/>
<rect x="564.48" y="513.91" width="44.42" height="10.05" fill="#f4e794"/>
<rect x="120.30" y="523.96" width="44.42" height="10.05" fill="#6a87c0"/>
<rect x="164.72" y="523.96" width="44.42" height="10.05" fill="#9eb8d8"/>
<rect x="209.14" y="523.96" width="44.42" height="10.05" fill="#85a2cd"/>
<rect x="253.55" y="523.96" width="44.42" height="10.05" fill="#abc3dd"/>
<rect x="297.97" y="523.96" width="44.42" height="10.05" fill="#d7e6ef"/>
<rect x="342.39" y="523.96" width="44.42" height="10.05" fill="#abc3dd"/>
<rect x="386.81" y="523.96" width="44.42" height="10.05" fill="#f4e794"/>
<rect x="431.23" y="523.96" width="44.42" height="10.05" fill="#f6ec9b"/>
<rect x="475.65" y="523.96" width="44.42" height="10.05" fill="#f6ec9b"/>
<rect x="520.06" y="523.96" width="44.42" height="10.05" fill="#f6ec9b"/>
<rect x="564.48" y="523.96" width="44.42" height="10.05" fill="#f6ec9b"/>
<rect x="120.30" y="534.01" width="44.42" height="10.05" fill="#f7f8be"/>
<rect x="164.72" y="534.01" width="44.42" height="10.05" fill="#f7f8be"/>
<rect x="209.14" y="534.01" width="44.42" height="10.05" fill="#f4f8c9"/>
<rect x="253.55" y="534.01" width="44.42" height="10.05" fill="#f4f8c9"/>
<rect x="297.97" y="534.01" width="44.42" height="10.05" fill="#f2f7d4"/>
<rect x="342.39" y="534.01" width="44.42" height="10.05" fill="#f2f7d4"/>
<rect x="386.81" y="534.01" width="44.42" height="10.05" fill="#f8f3a9"/>
<rect x="431.23" y="534.01" width="44.42" height="10.05" fill="#f8f6af"/>
<rect x="475.65" y="534.01" width="44.42" height="10.05" fill="#f9f8b5"/>
<rect x="520.06" y="534.01" width="44.42" height="10.05" fill="#f8f6af"/>
<rect x="564.48" y="534.01" width="44.42" height="10.05" fill="#f9f8b5"/>
<rect x="120.30" y="544.07" width="44.42" height="10.05" fill="#f2f7d4"/>
<rect x="164.72" y="544.07" width="44.42" height="10.05" fill="#f7f8be"/>
<rect x="209.14" y="544.07" width="44.42" height="10.05" fill="#f7f8be"/>
<rect x="253.55" y="544.07" width="44.42" height="10.05" fill="#f9f8b5"/>
<rect x="297.97" y="544.07" width="44.42" height="10.05" fill="#f9f8b5"/>
<rect x="342.39" y="544.07" width="44.42" height="10.05" fill="#f7f8be"/>
<rect x="386.81" y="544.07" width="44.42" height="10.05" fill="#f8f3a9"/>
<rect x="431.23" y="544.07" width="44.42" height="10.05" fill="#f8f3a9"/>
<rect x="475.65" y="544.07" width="44.42" height="10.05" fill="#f9f8b5"/>
<rect x="520.06" y="544.07" width="44.42" height="10.05" fill="#f6ec9b"/>
<rect x="564.48" y="544.07" width="44.42" height="10.05" fill="#f8f6af"/>
<rect x="120.30" y="554.12" width="44.42" height="10.05" fill="#f9f8b5"/>
<rect x="164.72" y="554.12" width="44.42" height="10.05" fill="#f9f8b5"/>
<rect x="209.14" y="554.12" width="44.42" height="10.05" fill="#f9f8b5"/>
<rect x="253.55" y="554.12" width="44.42" height="10.05" fill="#f9f8b5"/>
<rect x="297.97" y="554.12" width="44.42" height="10.05" fill="#f9f8b5"/>
<rect x="342.39" y="554.12" width="44.42" height="10.05" fill="#f9f8b5"/>
<rect x="386.81" y="554.12" width="44.42" height="10.05" fill="#f8f6af"/>
<rect x="431.23" y="554.12" width="44.42" height="10.05" fill="#f8f6af"/>
<rect x="475.65" y="554.12" width="44.42" height="10.05" fill="#f9f8b5"/>
<rect x="520.06" y="554.12" width="44.42" height="10.05" fill="#f8f6af"/>
<rect x="564.48" y="554.12" width="44.42" height="10.05" fill="#f9f8b5"/>
<rect x="120.30" y="564.18" width="44.42" height="10.05" fill="#f9f8b5"/>
<rect x="164.72" y="564.18" width="44.42" height="10.05" fill="#f9f8b5"/>
<rect x="209.14" y="564.18" width="44.42" height="10.05" fill="#f9f8b5"/>
<rect x="253.55" y="564.18" width="44.42" height="10.05" fill="#f9f8b5"/>
<rect x="297.97" y="564.18" width="44.42" height="10.05" fill="#f9f8b5"/>
<rect x="342.39" y="564.18" width="44.42" height="10.05" fill="#f9f8b5"/>
<rect x="386.81" y="564.18" width="44.42" height="10.05" fill="#f8f6af"/>
<rect x="431.23" y="564.18" width="44.42" height="10.05" fill="#f9f8b5"/>
<rect x="475.65" y="564.18" width="44.42" height="10.05" fill="#f2f7d4"/>
<rect x="520.06" y="564.18" width="44.42" height="10.05" fill="#f9f8b5"/>
<rect x="564.48" y="564.18" width="44.42" height="10.05" fill="#f2f7d4"/>
<rect x="120.30" y="574.23" width="44.42" height="10.05" fill="#f9f8b5"/>
<rect x="164.72" y="574.23" width="44.42" height="10.05" fill="#f9f8b5"/>
<rect x="209.14" y="574.23" width="44.42" height="10.05" fill="#f9f8b5"/>
<rect x="253.55" y="574.23" width="44.42" height="10.05" fill="#f9f8b5"/>
<rect x="297.97" y="574.23" width="44.42" height="10.05" fill="#f9f8b5"/>
<rect x="342.39" y="574.23" width="44.42" height="10.05" fill="#f9f8b5"/>
<rect x="386.81" y="574.23" width="44.42" height="10.05" fill="#f9f8b5"/>
<rect x="431.23" y="574.23" width="44.42" height="10.05" fill="#f2f7d4"/>
<rect x="475.65" y="574.23" width="44.42" height="10.05" fill="#f7f8be"/>
<rect x="520.06" y="574.23" width="44.42" height="10.05" fill="#f7f8be"/>
<rect x="564.48" y="574.23" width="44.42" height="10.05" fill="#f7f8be"/>
<rect x="120.30" y="584.28" width="44.42" height="10.05" fill="#f9f8b5"/>
<rect x="164.72" y="584.28" width="44.42" height="10.05" fill="#f9f8b5"/>
<rect x="209.14" y="584.28" width="44.42" height="10.05" fill="#f9f8b5"/>
<rect x="253.55" y="584.28" width="44.42" height="10.05" fill="#f9f8b5"/>
<rect x="297.97" y="584.28" width="44.42" height="10.05" fill="#f9f8b5"/>
<rect x="342.39" y="584.28" width="44.42" height="10.05" fill="#f9f8b5"/>
<rect x="386.81" y="584.28" width="44.42" height="10.05" fill="#f2f7d4"/>
<rect x="431.23" y="584.28" width="44.42" height="10.05" fill="#f2f7d4"/>
<rect x="475.65" y="584.28" width="44.42" height="10.05" fill="#f2f7d4"/>
<rect x="520.06" y="584.28" width="44.42" height="10.05" fill="#f7f8be"/>
<rect x="564.48" y="584.28" width="44.42" height="10.05" fill="#f2f7d4"/>
<rect x="120.30" y="594.34" width="44.42" height="10.05" fill="#f9f8b5"/>
<rect x="164.72" y="594.34" width="44.42" height="10.05" fill="#f9f8b5"/>
<rect x="209.14" y="594.34" width="44.42" height="10.05" fill="#f8f6af"/>
<rect x="253.55" y="594.34" width="44.42" height="10.05" fill="#f4f8c9"/>
<rect x="297.97" y="594.34" width="44.42" height="10.05" fill="#f4f8c9"/>
<rect x="342.39" y="594.34" width="44.42" height="10.05" fill="#f4f8c9"/>
<rect x="386.81" y="594.34" width="44.42" height="10.05" fill="#f2f7d4"/>
<rect x="431.23" y="594.34" width="44.42" height="10.05" fill="#f2f7d4"/>
<rect x="475.65" y="594.34" width="44.42" height="10.05" fill="#f2f7d4"/>
<rect x="520.06" y="594.34" width="44.42" height="10.05" fill="#f8f6af"/>
<rect x="564.48" y="594.34" width="44.42" height="10.05" fill="#f7f8be"/>
<rect x="120.30" y="604.39" width="44.42" height="10.05" fill="#f4f8c9"/>
<rect x="164.72" y="604.39" width="44.42" height="10.05" fill="#f4f8c9"/>
<rect x="209.14" y="604.39" width="44.42" height="10.05" fill="#f4f8c9"/>
<rect x="253.55" y="604.39" width="44.42" height="10.05" fill="#f2f7d4"/>
<rect x="297.97" y="604.39" width="44.42" height="10.05" fill="#f2f7d4"/>
<rect x="342.39" y="604.39" width="44.42" height="10.05" fill="#f4f8c9"/>
<rect x="386.81" y="604.39" width="44.42" height="10.05" fill="#f2f7d4"/>
<rect x="431.23" y="604.39" width="44.42" height="10.05" fill="#f2f7d4"/>
<rect x="475.65" y="604.39" width="44.42" height="10.05" fill="#f2f7d4"/>
<rect x="520.06" y="604.39" width="44.42" height="10.05" fill="#f4f8c9"/>
<rect x="564.48" y="604.39" width="44.42" height="10.05" fill="#f2f7d4"/>
<rect x="120.30" y="614.44" width="44.42" height="10.05" fill="#f4f8c9"/>
<rect x="164.72" y="614.44" width="44.42" height="10.05" fill="#f2f7d4"/>
<rect x="209.14" y="614.44" width="44.42" height="10.05" fill="#f2f7d4"/>
<rect x="253.55" y="614.44" width="44.42" height="10.05" fill="#f4f8c9"/>
<rect x="297.97" y="614.44" width="44.42" height="10.05" fill="#f2f7d4"/>
<rect x="342.39" y="614.44" width="44.42" height="10.05" fill="#f2f7d4"/>
<rect x="386.81" y="614.44" width="44.42" height="10.05" fill="#f9f8b5"/>
<rect x="431.23" y="614.44" width="44.42" height="10.05" fill="#f9f8b5"/>
<rect x="475.65" y="614.44" width="44.42" height="10.05" fill="#f4f8c9"/>
<rect x="520.06" y="614.44" width="44.42" height="10.05" fill="#f4f8c9"/>
<rect x="564.48" y="614.44" width="44.42" height="10.05" fill="#f4f8c9"/>
<rect x="120.30" y="624.50" width="44.42" height="10.05" fill="#f4f8c9"/>
<rect x="164.72" y="624.50" width="44.42" height="10.05" fill="#f2f7d4"/>
<rect x="209.14" y="624.50" width="44.42" height="10.05" fill="#f4f8c9"/>
<rect x="253.55" y="624.50" width="44.42" height="10.05" fill="#f4f8c9"/>
<rect x="297.97" y="624.50" width="44.42" height="10.05" fill="#f4f8c9"/>
<rect x="342.39" y="624.50" width="44.42" height="10.05" fill="#f2f7d4"/>
<rect x="386.81" y="624.50" width="44.42" height="10.05" fill="#f9f8b5"/>
<rect x="431.23" y="624.50" width="44.42" height="10.05" fill="#f9f8b5"/>
<rect x="475.65" y="624.50" width="44.42" height="10.05" fill="#f4f8c9"/>
<rect x="520.06" y="624.50" width="44.42" height="10.05" fill="#f2f7d4"/>
<rect x="564.48" y="624.50" width="44.42" height="10.05" fill="#f4f8c9"/>
<rect x="120.30" y="634.55" width="44.42" height="10.05" fill="#f4f8c9"/>
<rect x="164.72" y="634.55" width="44.42" height="10.05" fill="#f4f8c9"/>
<rect x="209.14" y="634.55" width="44.42" height="10.05" fill="#f4f8c9"/>
<rect x="253.55" y="634.55" width="44.42" height="10.05" fill="#f4f8c9"/>
<rect x="297.97" y="634.55" width="44.42" height="10.05" fill="#f4f8c9"/>
<rect x="342.39" y="634.55" width="44.42" height="10.05" fill="#f4f8c9"/>
<rect x="386.81" y="634.55" width="44.42" height="10.05" fill="#f9f8b5"/>
<rect x="431.23" y="634.55" width="44.42" height="10.05" fill="#f9f8b5"/>
<rect x="475.65" y="634.55" width="44.42" height="10.05" fill="#f2f7d4"/>
<rect x="520.06" y="634.55" width="44.42" height="10.05" fill="#f2f7d4"/>
<rect x="564.48" y="634.55" width="44.42" height="10.05" fill="#f2f7d4"/>
<rect x="120.30" y="644.60" width="44.42" height="10.05" fill="#f8f6af"/>
<rect x="164.72" y="644.60" width="44.42" height="10.05" fill="#f2f7d4"/>
<rect x="209.14" y="644.60" width="44.42" height="10.05" fill="#f9f8b5"/>
<rect x="253.55" y="644.60" width="44.42" height="10.05" fill="#f8f3a9"/>
<rect x="297.97" y="644.60" width="44.42" height="10.05" fill="#f7f8be"/>
<rect x="342.39" y="644.60" width="44.42" height="10.05" fill="#e8f2eb"/>
<rect x="386.81" y="644.60" width="44.42" height="10.05" fill="#f9f8b5"/>
<rect x="431.23" y="644.60" width="44.42" height="10.05" fill="#e4f0f1"/>
<rect x="475.65" y="644.60" width="44.42" height="10.05" fill="#f6ec9b"/>
<rect x="520.06" y="644.60" width="44.42" height="10.05" fill="#f4f8c9"/>
<rect x="564.48" y="644.60" width="44.42" height="10.05" fill="#f4f8c9"/>
<rect x="120.30" y="654.66" width="44.42" height="10.05" fill="#f9f8b5"/>
<rect x="164.72" y="654.66" width="44.42" height="10.05" fill="#f7f8be"/>
<rect x="209.14" y="654.66" width="44.42" height="10.05" fill="#f9f8b5"/>
<rect x="253.55" y="654.66" width="44.42" height="10.05" fill="#f9f8b5"/>
<rect x="297.97" y="654.66" width="44.42" height="10.05" fill="#f9f8b5"/>
<rect x="342.39" y="654.66" width="44.42" height="10.05" fill="#f9f8b5"/>
<rect x="386.81" y="654.66" width="44.42" height="10.05" fill="#f4f8c9"/>
<rect x="431.23" y="654.66" width="44.42" height="10.05" fill="#f2f7d4"/>
<rect x="475.65" y="654.66" width="44.42" height="10.05" fill="#f4f8c9"/>
<rect x="520.06" y="654.66" width="44.42" height="10.05" fill="#f2f7d4"/>
<rect x="564.48" y="654.66" width="44.42" height="10.05" fill="#f4f8c9"/>
<rect x="120.30" y="664.71" width="44.42" height="10.05" fill="#f9f8b5"/>
<rect x="164.72" y="664.71" width="44.42" height="10.05" fill="#f9f8b5"/>
<rect x="209.14" y="664.71" width="44.42" height="10.05" fill="#f9f8b5"/>
<rect x="253.55" y="664.71" width="44.42" height="10.05" fill="#f9f8b5"/>
<rect x="297.97" y="664.71" width="44.42" height="10.05" fill="#f9f8b5"/>
<rect x="342.39" y="664.71" width="44.42" height="10.05" fill="#f9f8b5"/>
<rect x="386.81" y="664.71" width="44.42" height="10.05" fill="#e6f1ef"/>
<rect x="431.23" y="664.71" width="44.42" height="10.05" fill="#f2f7d4"/>
<rect x="475.65" y="664.71" width="44.42" height="10.05" fill="#f7f8be"/>
<rect x="520.06" y="664.71" width="44.42" height="10.05" fill="#f4f8c9"/>
<rect x="564.48" y="664.71" width="44.42" height="10.05" fill="#f7f8be"/>
<rect x="120.30" y="674.77" width="44.42" height="10.05" fill="#f8f4ab"/>
<rect x="164.72" y="674.77" width="44.42" height="10.05" fill="#f7ee9e"/>
<rect x="209.14" y="674.77" width="44.42" height="10.05" fill="#f8f4ab"/>
<rect x="253.55" y="674.77" width="44.42" height="10.05" fill="#f8f4ab"/>
<rect x="297.97" y="674.77" width="44.42" height="10.05" fill="#f8f4ab"/>
<rect x="342.39" y="674.77" width="44.42" height="10.05" fill="#f8f4ab"/>
<rect x="386.81" y="674.77" width="44.42" height="10.05" fill="#f8f3a9"/>
<rect x="431.23" y="674.77" width="44.42" height="10.05" fill="#f8f6af"/>
<rect x="475.65" y="674.77" width="44.42" height="10.05" fill="#f9f8b5"/>
<rect x="520.06" y="674.77" width="44.42" height="10.05" fill="#f8f3a9"/>
<rect x="564.48" y="674.77" width="44.42" height="10.05" fill="#f8f6af"/>
<rect x="120.30" y="684.82" width="44.42" height="10.05" fill="#f7f1a5"/>
<rect x="164.72" y="684.82" width="44.42" height="10.05" fill="#f7f1a5"/>
<rect x="209.14" y="684.82" width="44.42" height="10.05" fill="#f8f4ab"/>
<rect x="253.55" y="684.82" width="44.42" height="10.05" fill="#f7f1a5"/>
<rect x="297.97" y="684.82" width="44.42" height="10.05" fill="#f7ee9e"/>
<rect x="342.39" y="684.82" width="44.42" height="10.05" fill="#f8f4ab"/>
<rect x="386.81" y="684.82" width="44.42" height="10.05" fill="#f8f3a9"/>
<rect x="431.23" y="684.82" width="44.42" height="10.05" fill="#f8f6af"/>
<rect x="475.65" y="684.82" width="44.42" height="10.05" fill="#f9f8b5"/>
<rect x="520.06" y="684.82" width="44.42" height="10.05" fill="#f8f6af"/>
<rect x="564.48" y="684.82" width="44.42" height="10.05" fill="#f8f6af"/>
<rect x="120.30" y="694.87" width="44.42" height="10.05" fill="#f8f4ab"/>
<rect x="164.72" y="694.87" width="44.42" height="10.05" fill="#f8f4ab"/>
<rect x="209.14" y="694.87" width="44.42" height="10.05" fill="#f7ee9e"/>
<rect x="253.55" y="694.87" width="44.42" height="10.05" fill="#f8f4ab"/>
<rect x="297.97" y="694.87" width="44.42" height="10.05" fill="#f8f4ab"/>
<rect x="342.39" y="694.87" width="44.42" height="10.05" fill="#f8f4ab"/>
<rect x="386.81" y="694.87" width="44.42" height="10.05" fill="#f8f6af"/>
<rect x="431.23" y="694.87" width="44.42" height="10.05" fill="#f8f6af"/>
<rect x="475.65" y="694.87" width="44.42" height="10.05" fill="#f9f8b5"/>
<rect x="520.06" y="694.87" width="44.42" height="10.05" fill="#f8f6af"/>
<rect x="564.48" y="694.87" width="44.42" height="10.05" fill="#f8f6af"/>
<rect x="120.30" y="704.93" width="44.42" height="10.05" fill="#f8f4ab"/>
<rect x="164.72" y="704.93" width="44.42" height="10.05" fill="#f8f4ab"/>
<rect x="209.14" y="704.93" width="44.42" height="10.05" fill="#f8f4ab"/>
<rect x="253.55" y="704.93" width="44.42" height="10.05" fill="#f8f4ab"/>
<rect x="297.97" y="704.93" width="44.42" height="10.05" fill="#f8f4ab"/>
<rect x="342.39" y="704.93" width="44.42" height="10.05" fill="#f8f4ab"/>
<rect x="386.81" y="704.93" width="44.42" height="10.05" fill="#f8f6af"/>
<rect x="431.23" y="704.93" width="44.42" height="10.05" fill="#f8f6af"/>
<rect x="475.65" y="704.93" width="44.42" height="10.05" fill="#f9f8b5"/>
<rect x="520.06" y="704.93" width="44.42" height="10.05" fill="#f8f6af"/>
<rect x="564.48" y="704.93" width="44.42" height="10.05" fill="#f8f3a9"/>
<rect x="120.30" y="714.98" width="44.42" height="10.05" fill="#f8f4ab"/>
<rect x="164.72" y="714.98" width="44.42" height="10.05" fill="#f8f4ab"/>
<rect x="209.14" y="714.98" width="44.42" height="10.05" fill="#f8f4ab"/>
<rect x="253.55" y="714.98" width="44.42" height="10.05" fill="#f8f4ab"/>
<rect x="297.97" y="714.98" width="44.42" height="10.05" fill="#f8f4ab"/>
<rect x="342.39" y="714.98" width="44.42" height="10.05" fill="#f8f4ab"/>
<rect x="386.81" y="714.98" width="44.42" height="10.05" fill="#f8f6af"/>
<rect x="431.23" y="714.98" width="44.42" height="10.05" fill="#f8f6af"/>
<rect x="475.65" y="714.98" width="44.42" height="10.05" fill="#f8f6af"/>
<rect x="520.06" y="714.98" width="44.42" height="10.05" fill="#f8f3a9"/>
<rect x="564.48" y="714.98" width="44.42" height="10.05" fill="#f8f3a9"/>
<rect x="120.30" y="725.03" width="44.42" height="10.05" fill="#e8f2eb"/>
<rect x="164.72" y="725.03" width="44.42" height="10.05" fill="#f2f7d4"/>
<rect x="209.14" y="725.03" width="44.42" height="10.05" fill="#f4f8c9"/>
<rect x="253.55" y="725.03" width="44.42" height="10.05" fill="#f8f3a9"/>
<rect x="297.97" y="725.03" width="44.42" height="10.05" fill="#f7f8be"/>
<rect x="342.39" y="725.03" width="44.42" height="10.05" fill="#f4f8c9"/>
<rect x="386.81" y="725.03" width="44.42" height="10.05" fill="#f3e18c"/>
<rect x="431.23" y="725.03" width="44.42" height="10.05" fill="#f6ec9b"/>
<rect x="475.65" y="725.03" width="44.42" height="10.05" fill="#f6ec9b"/>
<rect x="520.06" y="725.03" width="44.42" height="10.05" fill="#f6ec9b"/>
<rect x="564.48" y="725.03" width="44.42" height="10.05" fill="#f7f0a2"/>
<rect x="120.30" y="735.09" width="44.42" height="10.05" fill="#f8f3a9"/>
<rect x="164.72" y="735.09" width="44.42" height="10.05" fill="#f4f8c9"/>
<rect x="209.14" y="735.09" width="44.42" height="10.05" fill="#f6ec9b"/>
<rect x="253.55" y="735.09" width="44.42" height="10.05" fill="#f1dc84"/>
<rect x="297.97" y="735.09" width="44.42" height="10.05" fill="#f8f3a9"/>
<rect x="342.39" y="735.09" width="44.42" height="10.05" fill="#f7f8be"/>
<rect x="386.81" y="735.09" width="44.42" height="10.05" fill="#eab76b"/>
<rect x="431.23" y="735.09" width="44.42" height="10.05" fill="#f4e794"/>
<rect x="475.65" y="735.09" width="44.42" height="10.05" fill="#f3e18c"/>
<rect x="520.06" y="735.09" width="44.42" height="10.05" fill="#f8f3a9"/>
<rect x="564.48" y="735.09" width="44.42" height="10.05" fill="#f8f6af"/>
<rect x="120.30" y="745.14" width="44.42" height="10.05" fill="#f2f7d4"/>
<rect x="164.72" y="745.14" width="44.42" height="10.05" fill="#f2f7d4"/>
<rect x="209.14" y="745.14" width="44.42" height="10.05" fill="#f8f3a9"/>
<rect x="253.55" y="745.14" width="44.42" height="10.05" fill="#f8f3a9"/>
<rect x="297.97" y="745.14" width="44.42" height="10.05" fill="#f6ec9b"/>
<rect x="342.39" y="745.14" width="44.42" height="10.05" fill="#f3e18c"/>
<rect x="386.81" y="745.14" width="44.42" height="10.05" fill="#eed07c"/>
<rect x="431.23" y="745.14" width="44.42" height="10.05" fill="#eab76b"/>
<rect x="475.65" y="745.14" width="44.42" height="10.05" fill="#f7f0a2"/>
<rect x="520.06" y="745.14" width="44.42" height="10.05" fill="#f4e794"/>
<rect x="564.48" y="745.14" width="44.42" height="10.05" fill="#f7f0a2"/>
<rect x="120.30" y="755.20" width="44.42" height="10.05" fill="#9eb8d8"/>
<rect x="164.72" y="755.20" width="44.42" height="10.05" fill="#abc3dd"/>
<rect x="209.14" y="755.20" width="44.42" height="10.05" fill="#85a2cd"/>
<rect x="253.55" y="755.20" width="44.42" height="10.05" fill="#7795c7"/>
<rect x="297.97" y="755.20" width="44.42" height="10.05" fill="#9eb8d8"/>
<rect x="342.39" y="755.20" width="44.42" height="10.05" fill="#9eb8d8"/>
<rect x="386.81" y="755.20" width="44.42" height="10.05" fill="#f2f7d4"/>
<rect x="431.23" y="755.20" width="44.42" height="10.05" fill="#eff6dd"/>
<rect x="475.65" y="755.20" width="44.42" height="10.05" fill="#eff6dd"/>
<rect x="520.06" y="755.20" width="44.42" height="10.05" fill="#eff6dd"/>
<rect x="564.48" y="755.20" width="44.42" height="10.05" fill="#eff6dd"/>
<rect x="120.30" y="765.25" width="44.42" height="10.05" fill="#6a87c0"/>
<rect x="164.72" y="765.25" width="44.42" height="10.05" fill="#4058a8"/>
<rect x="209.14" y="765.25" width="44.42" height="10.05" fill="#4058a8"/>
<rect x="253.55" y="765.25" width="44.42" height="10.05" fill="#3850a4"/>
<rect x="297.97" y="765.25" width="44.42" height="10.05" fill="#7795c7"/>
<rect x="342.39" y="765.25" width="44.42" height="10.05" fill="#4058a8"/>
<rect x="386.81" y="765.25" width="44.42" height="10.05" fill="#c4d6e7"/>
<rect x="431.23" y="765.25" width="44.42" height="10.05" fill="#bdd1e4"/>
<rect x="475.65" y="765.25" width="44.42" height="10.05" fill="#c4d6e7"/>
<rect x="520.06" y="765.25" width="44.42" height="10.05" fill="#bdd1e4"/>
<rect x="564.48" y="765.25" width="44.42" height="10.05" fill="#c4d6e7"/>
<rect x="120.30" y="775.30" width="44.42" height="10.05" fill="#4058a8"/>
<rect x="164.72" y="775.30" width="44.42" height="10.05" fill="#4963ae"/>
<rect x="209.14" y="775.30" width="44.42" height="10.05" fill="#7795c7"/>
<rect x="253.55" y="775.30" width="44.42" height="10.05" fill="#7795c7"/>
<rect x="297.97" y="775.30" width="44.42" height="10.05" fill="#92aed3"/>
<rect x="342.39" y="775.30" width="44.42" height="10.05" fill="#4058a8"/>
<rect x="386.81" y="775.30" width="44.42" height="10.05" fill="#e6f1ef"/>
<rect x="431.23" y="775.30" width="44.42" height="10.05" fill="#e4f0f1"/>
<rect x="475.65" y="775.30" width="44.42" height="10.05" fill="#e4f0f1"/>
<rect x="520.06" y="775.30" width="44.42" height="10.05" fill="#e4f0f1"/>
<rect x="564.48" y="775.30" width="44.42" height="10.05" fill="#e4f0f1"/>
<rect x="120.30" y="785.36" width="44.42" height="10.05" fill="#e8f2eb"/>
<rect x="164.72" y="785.36" width="44.42" height="10.05" fill="#e8f2eb"/>
<rect x="209.14" y="785.36" width="44.42" height="10.05" fill="#e4f0f1"/>
<rect x="253.55" y="785.36" width="44.42" height="10.05" fill="#e4f0f1"/>
<rect x="297.97" y="785.36" width="44.42" height="10.05" fill="#f2f7d4"/>
<rect x="342.39" y="785.36" width="44.42" height="10.05" fill="#eff6dd"/>
<rect x="386.81" y="785.36" width="44.42" height="10.05" fill="#ecf4e4"/>
<rect x="431.23" y="785.36" width="44.42" height="10.05" fill="#ecf4e4"/>
<rect x="475.65" y="785.36" width="44.42" height="10.05" fill="#ecf4e4"/>
<rect x="520.06" y="785.36" width="44.42" height="10.05" fill="#ecf4e4"/>
<rect x="564.48" y="785.36" width="44.42" height="10.05" fill="#ecf4e4"/>
<rect x="120.30" y="795.41" width="44.42" height="10.05" fill="#d0e0ec"/>
<rect x="164.72" y="795.41" width="44.42" height="10.05" fill="#c4d6e7"/>
<rect x="209.14" y="795.41" width="44.42" height="10.05" fill="#dce9f1"/>
<rect x="253.55" y="795.41" width="44.42" height="10.05" fill="#c4d6e7"/>
<rect x="297.97" y="795.41" width="44.42" height="10.05" fill="#e8f2eb"/>
<rect x="342.39" y="795.41" width="44.42" height="10.05" fill="#e4f0f1"/>
<rect x="386.81" y="795.41" width="44.42" height="10.05" fill="#e8f2eb"/>
<rect x="431.23" y="795.41" width="44.42" height="10.05" fill="#e8f2eb"/>
<rect x="475.65" y="795.41" width="44.42" height="10.05" fill="#c4d6e7"/>
<rect x="520.06" y="795.41" width="44.42" height="10.05" fill="#e4f0f1"/>
<rect x="564.48" y="795.41" width="44.42" height="10.05" fill="#e4f0f1"/>
<rect x="120.30" y="805.46" width="44.42" height="10.05" fill="#dce9f1"/>
<rect x="164.72" y="805.46" width="44.42" height="10.05" fill="#e8f2eb"/>
<rect x="209.14" y="805.46" width="44.42" height="10.05" fill="#dce9f1"/>
<rect x="253.55" y="805.46" width="44.42" height="10.05" fill="#c4d6e7"/>
<rect x="297.97" y="805.46" width="44.42" height="10.05" fill="#e4f0f1"/>
<rect x="342.39" y="805.46" width="44.42" height="10.05" fill="#e4f0f1"/>
<rect x="386.81" y="805.46" width="44.42" height="10.05" fill="#e4f0f1"/>
<rect x="431.23" y="805.46" width="44.42" height="10.05" fill="#e4f0f1"/>
<rect x="475.65" y="805.46" width="44.42" height="10.05" fill="#e4f0f1"/>
<rect x="520.06" y="805.46" width="44.42" height="10.05" fill="#e4f0f1"/>
<rect x="564.48" y="805.46" width="44.42" height="10.05" fill="#e4f0f1"/>
<rect x="120.30" y="815.52" width="44.42" height="10.05" fill="#f4f8c9"/>
<rect x="164.72" y="815.52" width="44.42" height="10.05" fill="#f4f8c9"/>
<rect x="209.14" y="815.52" width="44.42" height="10.05" fill="#e4f0f1"/>
<rect x="253.55" y="815.52" width="44.42" height="10.05" fill="#ecf4e4"/>
<rect x="297.97" y="815.52" width="44.42" height="10.05" fill="#f2f7d4"/>
<rect x="342.39" y="815.52" width="44.42" height="10.05" fill="#eff6dd"/>
<rect x="386.81" y="815.52" width="44.42" height="10.05" fill="#b8cde2"/>
<rect x="431.23" y="815.52" width="44.42" height="10.05" fill="#dce9f1"/>
<rect x="475.65" y="815.52" width="44.42" height="10.05" fill="#f2f7d4"/>
<rect x="520.06" y="815.52" width="44.42" height="10.05" fill="#f2f7d4"/>
<rect x="564.48" y="815.52" width="44.42" height="10.05" fill="#f2f7d4"/>
<rect x="120.30" y="825.57" width="44.42" height="10.05" fill="#f4f8c9"/>
<rect x="164.72" y="825.57" width="44.42" height="10.05" fill="#f4f8c9"/>
<rect x="209.14" y="825.57" width="44.42" height="10.05" fill="#f2f7d4"/>
<rect x="253.55" y="825.57" width="44.42" height="10.05" fill="#ecf4e4"/>
<rect x="297.97" y="825.57" width="44.42" height="10.05" fill="#eff6dd"/>
<rect x="342.39" y="825.57" width="44.42" height="10.05" fill="#f4f8c9"/>
<rect x="386.81" y="825.57" width="44.42" height="10.05" fill="#d7e6ef"/>
<rect x="431.23" y="825.57" width="44.42" height="10.05" fill="#e4f0f1"/>
<rect x="475.65" y="825.57" width="44.42" height="10.05" fill="#f1f6d8"/>
<rect x="520.06" y="825.57" width="44.42" height="10.05" fill="#f1f6d8"/>
<rect x="564.48" y="825.57" width="44.42" height="10.05" fill="#f1f6d8"/>
<rect x="120.30" y="835.62" width="44.42" height="10.05" fill="#eff6dd"/>
<rect x="164.72" y="835.62" width="44.42" height="10.05" fill="#f2f7d4"/>
<rect x="209.14" y="835.62" width="44.42" height="10.05" fill="#eff6dd"/>
<rect x="253.55" y="835.62" width="44.42" height="10.05" fill="#ecf4e4"/>
<rect x="297.97" y="835.62" width="44.42" height="10.05" fill="#ecf4e4"/>
<rect x="342.39" y="835.62" width="44.42" height="10.05" fill="#f9f8b5"/>
<rect x="386.81" y="835.62" width="44.42" height="10.05" fill="#f7f8be"/>
<rect x="431.23" y="835.62" width="44.42" height="10.05" fill="#f4f8c9"/>
<rect x="475.65" y="835.62" width="44.42" height="10.05" fill="#f7f8be"/>
<rect x="520.06" y="835.62" width="44.42" height="10.05" fill="#f7f8be"/>
<rect x="564.48" y="835.62" width="44.42" height="10.05" fill="#f7f8be"/>
<rect x="120.30" y="845.68" width="44.42" height="10.05" fill="#f7f8be"/>
<rect x="164.72" y="845.68" width="44.42" height="10.05" fill="#f7f8be"/>
<rect x="209.14" y="845.68" width="44.42" height="10.05" fill="#f2f7d4"/>
<rect x="253.55" y="845.68" width="44.42" height="10.05" fill="#f7f8be"/>
<rect x="297.97" y="845.68" width="44.42" height="10.05" fill="#f2f7d4"/>
<rect x="342.39" y="845.68" width="44.42" height="10.05" fill="#f4f8c9"/>
<rect x="386.81" y="845.68" width="44.42" height="10.05" fill="#f2f7d4"/>
<rect x="431.23" y="845.68" width="44.42" height="10.05" fill="#f2f7d4"/>
<rect x="475.65" y="845.68" width="44.42" height="10.05" fill="#f2f7d4"/>
<rect x="520.06" y="845.68" width="44.42" height="10.05" fill="#f2f7d4"/>
<rect x="564.48" y="845.68" width="44.42" height="10.05" fill="#f2f7d4"/>
<rect x="120.30" y="855.73" width="44.42" height="10.05" fill="#f7f8be"/>
<rect x="164.72" y="855.73" width="44.42" height="10.05" fill="#f7f8be"/>
<rect x="209.14" y="855.73" width="44.42" height="10.05" fill="#f4f8c9"/>
<rect x="253.55" y="855.73" width="44.42" height="10.05" fill="#f7f8be"/>
<rect x="297.97" y="855.73" width="44.42" height="10.05" fill="#f7f8be"/>
<rect x="342.39" y="855.73" width="44.42" height="10.05" fill="#f7f8be"/>
<rect x="386.81" y="855.73" width="44.42" height="10.05" fill="#f2f7d4"/>
<rect x="431.23" y="855.73" width="44.42" height="10.05" fill="#f2f7d4"/>
<rect x="475.65" y="855.73" width="44.42" height="10.05" fill="#f2f7d4"/>
<rect x="520.06" y="855.73" width="44.42" height="10.05" fill="#f2f7d4"/>
<rect x="564.48" y="855.73" width="44.42" height="10.05" fill="#f2f7d4"/>
<rect x="120.30" y="865.79" width="44.42" height="10.05" fill="#92aed3"/>
<rect x="164.72" y="865.79" width="44.42" height="10.05" fill="#85a2cd"/>
<rect x="209.14" y="865.79" width="44.42" height="10.05" fill="#dce9f1"/>
<rect x="253.55" y="865.79" width="44.42" height="10.05" fill="#9eb8d8"/>
<rect x="297.97" y="865.79" width="44.42" height="10.05" fill="#dce9f1"/>
<rect x="342.39" y="865.79" width="44.42" height="10.05" fill="#dce9f1"/>
<rect x="386.81" y="865.79" width="44.42" height="10.05" fill="#85a2cd"/>
<rect x="431.23" y="865.79" width="44.42" height="10.05" fill="#9eb8d8"/>
<rect x="475.65" y="865.79" width="44.42" height="10.05" fill="#e4f0f1"/>
<rect x="520.06" y="865.79" width="44.42" height="10.05" fill="#9eb8d8"/>
<rect x="564.48" y="865.79" width="44.42" height="10.05" fill="#e4f0f1"/>
<rect x="120.30" y="875.84" width="44.42" height="10.05" fill="#abc3dd"/>
<rect x="164.72" y="875.84" width="44.42" height="10.05" fill="#abc3dd"/>
<rect x="209.14" y="875.84" width="44.42" height="10.05" fill="#e4f0f1"/>
<rect x="253.55" y="875.84" width="44.42" height="10.05" fill="#b8cde2"/>
<rect x="297.97" y="875.84" width="44.42" height="10.05" fill="#abc3dd"/>
<rect x="342.39" y="875.84" width="44.42" height="10.05" fill="#abc3dd"/>
<rect x="386.81" y="875.84" width="44.42" height="10.05" fill="#dce9f1"/>
<rect x="431.23" y="875.84" width="44.42" height="10.05" fill="#9eb8d8"/>
<rect x="475.65" y="875.84" width="44.42" height="10.05" fill="#dce9f1"/>
<rect x="520.06" y="875.84" width="44.42" height="10.05" fill="#abc3dd"/>
<rect x="564.48" y="875.84" width="44.42" height="10.05" fill="#b8cde2"/>
<rect x="120.30" y="885.89" width="44.42" height="10.05" fill="#d0e0ec"/>
<rect x="164.72" y="885.89" width="44.42" height="10.05" fill="#d0e0ec"/>
<rect x="209.14" y="885.89" width="44.42" height="10.05" fill="#c4d6e7"/>
<rect x="253.55" y="885.89" width="44.42" height="10.05" fill="#85a2cd"/>
<rect x="297.97" y="885.89" width="44.42" height="10.05" fill="#e8f2eb"/>
<rect x="342.39" y="885.89" width="44.42" height="10.05" fill="#dce9f1"/>
<rect x="386.81" y="885.89" width="44.42" height="10.05" fill="#dce9f1"/>
<rect x="431.23" y="885.89" width="44.42" height="10.05" fill="#dce9f1"/>
<rect x="475.65" y="885.89" width="44.42" height="10.05" fill="#9eb8d8"/>
<rect x="520.06" y="885.89" width="44.42" height="10.05" fill="#dce9f1"/>
<rect x="564.48" y="885.89" width="44.42" height="10.05" fill="#dce9f1"/>
<rect x="120.30" y="895.95" width="44.42" height="10.05" fill="#c4d6e7"/>
<rect x="164.72" y="895.95" width="44.42" height="10.05" fill="#d0e0ec"/>
<rect x="209.14" y="895.95" width="44.42" height="10.05" fill="#d0e0ec"/>
<rect x="253.55" y="895.95" width="44.42" height="10.05" fill="#d0e0ec"/>
<rect x="297.97" y="895.95" width="44.42" height="10.05" fill="#c4d6e7"/>
<rect x="342.39" y="895.95" width="44.42" height="10.05" fill="#d0e0ec"/>
<rect x="386.81" y="895.95" width="44.42" height="10.05" fill="#c4d6e7"/>
<rect x="431.23" y="895.95" width="44.42" height="10.05" fill="#c4d6e7"/>
<rect x="475.65" y="895.95" width="44.42" height="10.05" fill="#c4d6e7"/>
<rect x="520.06" y="895.95" width="44.42" height="10.05" fill="#c4d6e7"/>
<rect x="564.48" y="895.95" width="44.42" height="10.05" fill="#c4d6e7"/>
</g>
<path d="M120.30 81.60H608.90M120.30 91.65H608.90M120.30 101.71H608.90M120.30 111.76H608.90M120.30 121.81H608.90M120.30 131.87H608.90M120.30 141.92H608.90M120.30 151.98H608.90M120.30 162.03H608.90M120.30 172.08H608.90M120.30 182.14H608.90M120.30 192.19H608.90M120.30 202.24H608.90M120.30 212.30H608.90M120.30 222.35H608.90M120.30 232.40H608.90M120.30 242.46H608.90M120.30 252.51H608.90M120.30 262.57H608.90M120.30 272.62H608.90M120.30 282.67H608.90M120.30 292.73H608.90M120.30 302.78H608.90M120.30 312.83H608.90M120.30 322.89H608.90M120.30 332.94H608.90M120.30 343.00H608.90M120.30 353.05H608.90M120.30 363.10H608.90M120.30 373.16H608.90M120.30 383.21H608.90M120.30 393.26H608.90M120.30 403.32H608.90M120.30 413.37H608.90M120.30 423.42H608.90M120.30 433.48H608.90M120.30 443.53H608.90M120.30 453.59H608.90M120.30 463.64H608.90M120.30 473.69H608.90M120.30 483.75H608.90M120.30 493.80H608.90M120.30 503.85H608.90M120.30 513.91H608.90M120.30 523.96H608.90M120.30 534.01H608.90M120.30 544.07H608.90M120.30 554.12H608.90M120.30 564.18H608.90M120.30 574.23H608.90M120.30 584.28H608.90M120.30 594.34H608.90M120.30 604.39H608.90M120.30 614.44H608.90M120.30 624.50H608.90M120.30 634.55H608.90M120.30 644.60H608.90M120.30 654.66H608.90M120.30 664.71H608.90M120.30 674.77H608.90M120.30 684.82H608.90M120.30 694.87H608.90M120.30 704.93H608.90M120.30 714.98H608.90M120.30 725.03H608.90M120.30 735.09H608.90M120.30 745.14H608.90M120.30 755.20H608.90M120.30 765.25H608.90M120.30 775.30H608.90M120.30 785.36H608.90M120.30 795.41H608.90M120.30 805.46H608.90M120.30 815.52H608.90M120.30 825.57H608.90M120.30 835.62H608.90M120.30 845.68H608.90M120.30 855.73H608.90M120.30 865.79H608.90M120.30 875.84H608.90M120.30 885.89H608.90M120.30 895.95H608.90M120.30 906.00H608.90M120.30 81.60V906.00M164.72 81.60V906.00M209.14 81.60V906.00M253.55 81.60V906.00M297.97 81.60V906.00M342.39 81.60V906.00M386.81 81.60V906.00M431.23 81.60V906.00M475.65 81.60V906.00M520.06 81.60V906.00M564.48 81.60V906.00M608.90 81.60V906.00" stroke="#8a8a8a" stroke-width="1.7" fill="none"/>
<text x="615.3" y="91.13" font-size="10.9" stroke="#111" stroke-width="0.35" transform="translate(615.3 0) scale(1.58 1) translate(-615.3 0)" fill="#111">Cyp2c55</text>
<text x="615.3" y="101.18" font-size="10.9" stroke="#111" stroke-width="0.35" transform="translate(615.3 0) scale(1.58 1) translate(-615.3 0)" fill="#111">Cyp2b10</text>
<text x="615.3" y="111.23" font-size="10.9" stroke="#111" stroke-width="0.35" transform="translate(615.3 0) scale(1.58 1) translate(-615.3 0)" fill="#111">Gstm2</text>
<text x="615.3" y="121.29" font-size="10.9" stroke="#111" stroke-width="0.35" transform="translate(615.3 0) scale(1.58 1) translate(-615.3 0)" fill="#111">Aox1</text>
<text x="615.3" y="131.34" font-size="10.9" stroke="#111" stroke-width="0.35" transform="translate(615.3 0) scale(1.58 1) translate(-615.3 0)" fill="#111">Gstm4</text>
<text x="615.3" y="141.40" font-size="10.9" stroke="#111" stroke-width="0.35" transform="translate(615.3 0) scale(1.58 1) translate(-615.3 0)" fill="#111">Cyp8b1</text>
<text x="615.3" y="151.45" font-size="10.9" stroke="#111" stroke-width="0.35" transform="translate(615.3 0) scale(1.58 1) translate(-615.3 0)" fill="#111">Cyp7b1</text>
<text x="615.3" y="161.50" font-size="10.9" stroke="#111" stroke-width="0.35" transform="translate(615.3 0) scale(1.58 1) translate(-615.3 0)" fill="#111">Cyp4f14</text>
<text x="615.3" y="171.56" font-size="10.9" stroke="#111" stroke-width="0.35" transform="translate(615.3 0) scale(1.58 1) translate(-615.3 0)" fill="#111">Ugt2a3</text>
<text x="615.3" y="181.61" font-size="10.9" stroke="#111" stroke-width="0.35" transform="translate(615.3 0) scale(1.58 1) translate(-615.3 0)" fill="#111">Adh4</text>
<text x="615.3" y="191.66" font-size="10.9" stroke="#111" stroke-width="0.35" transform="translate(615.3 0) scale(1.58 1) translate(-615.3 0)" fill="#111">Dhdh</text>
<text x="615.3" y="201.72" font-size="10.9" stroke="#111" stroke-width="0.35" transform="translate(615.3 0) scale(1.58 1) translate(-615.3 0)" fill="#111">Maob</text>
<text x="615.3" y="211.77" font-size="10.9" stroke="#111" stroke-width="0.35" transform="translate(615.3 0) scale(1.58 1) translate(-615.3 0)" fill="#111">Fmo1</text>
<text x="615.3" y="221.82" font-size="10.9" stroke="#111" stroke-width="0.35" transform="translate(615.3 0) scale(1.58 1) translate(-615.3 0)" fill="#111">Cyp4f15</text>
<text x="615.3" y="231.88" font-size="10.9" stroke="#111" stroke-width="0.35" transform="translate(615.3 0) scale(1.58 1) translate(-615.3 0)" fill="#111">Cyp4a10</text>
<text x="615.3" y="241.93" font-size="10.9" stroke="#111" stroke-width="0.35" transform="translate(615.3 0) scale(1.58 1) translate(-615.3 0)" fill="#111">Gsto1</text>
<text x="615.3" y="251.99" font-size="10.9" stroke="#111" stroke-width="0.35" transform="translate(615.3 0) scale(1.58 1) translate(-615.3 0)" fill="#111">Gstk1</text>
<text x="615.3" y="262.04" font-size="10.9" stroke="#111" stroke-width="0.35" transform="translate(615.3 0) scale(1.58 1) translate(-615.3 0)" fill="#111">Cyp4f13</text>
<text x="615.3" y="272.09" font-size="10.9" stroke="#111" stroke-width="0.35" transform="translate(615.3 0) scale(1.58 1) translate(-615.3 0)" fill="#111">Cyp2j6</text>
<text x="615.3" y="282.15" font-size="10.9" stroke="#111" stroke-width="0.35" transform="translate(615.3 0) scale(1.58 1) translate(-615.3 0)" fill="#111">Cyp2e1</text>
<text x="615.3" y="292.20" font-size="10.9" stroke="#111" stroke-width="0.35" transform="translate(615.3 0) scale(1.58 1) translate(-615.3 0)" fill="#111">Adh1</text>
<text x="615.3" y="302.25" font-size="10.9" stroke="#111" stroke-width="0.35" transform="translate(615.3 0) scale(1.58 1) translate(-615.3 0)" fill="#111">Mgst1</text>
<text x="615.3" y="312.31" font-size="10.9" stroke="#111" stroke-width="0.35" transform="translate(615.3 0) scale(1.58 1) translate(-615.3 0)" fill="#111">Cyp3a11</text>
<text x="615.3" y="322.36" font-size="10.9" stroke="#111" stroke-width="0.35" transform="translate(615.3 0) scale(1.58 1) translate(-615.3 0)" fill="#111">Cyp2c29</text>
<text x="615.3" y="332.41" font-size="10.9" stroke="#111" stroke-width="0.35" transform="translate(615.3 0) scale(1.58 1) translate(-615.3 0)" fill="#111">Gstm1</text>
<text x="615.3" y="342.47" font-size="10.9" stroke="#111" stroke-width="0.35" transform="translate(615.3 0) scale(1.58 1) translate(-615.3 0)" fill="#111">Cyp51</text>
<text x="615.3" y="352.52" font-size="10.9" stroke="#111" stroke-width="0.35" transform="translate(615.3 0) scale(1.58 1) translate(-615.3 0)" fill="#111">Cyp3a13</text>
<text x="615.3" y="362.58" font-size="10.9" stroke="#111" stroke-width="0.35" transform="translate(615.3 0) scale(1.58 1) translate(-615.3 0)" fill="#111">Ugt1a1</text>
<text x="615.3" y="372.63" font-size="10.9" stroke="#111" stroke-width="0.35" transform="translate(615.3 0) scale(1.58 1) translate(-615.3 0)" fill="#111">Ugt2b35</text>
<text x="615.3" y="382.68" font-size="10.9" stroke="#111" stroke-width="0.35" transform="translate(615.3 0) scale(1.58 1) translate(-615.3 0)" fill="#111">Ephx1</text>
<text x="615.3" y="392.74" font-size="10.9" stroke="#111" stroke-width="0.35" transform="translate(615.3 0) scale(1.58 1) translate(-615.3 0)" fill="#111">Adh5</text>
<text x="615.3" y="402.79" font-size="10.9" stroke="#111" stroke-width="0.35" transform="translate(615.3 0) scale(1.58 1) translate(-615.3 0)" fill="#111">Cyp27a1</text>
<text x="615.3" y="412.84" font-size="10.9" stroke="#111" stroke-width="0.35" transform="translate(615.3 0) scale(1.58 1) translate(-615.3 0)" fill="#111">Gstz1</text>
<text x="615.3" y="422.90" font-size="10.9" stroke="#111" stroke-width="0.35" transform="translate(615.3 0) scale(1.58 1) translate(-615.3 0)" fill="#111">Ugt2b36</text>
<text x="615.3" y="432.95" font-size="10.9" stroke="#111" stroke-width="0.35" transform="translate(615.3 0) scale(1.58 1) translate(-615.3 0)" fill="#111">Ugt2b5</text>
<text x="615.3" y="443.00" font-size="10.9" stroke="#111" stroke-width="0.35" transform="translate(615.3 0) scale(1.58 1) translate(-615.3 0)" fill="#111">Cyp1a2</text>
<text x="615.3" y="453.06" font-size="10.9" stroke="#111" stroke-width="0.35" transform="translate(615.3 0) scale(1.58 1) translate(-615.3 0)" fill="#111">Ugt2b34</text>
<text x="615.3" y="463.11" font-size="10.9" stroke="#111" stroke-width="0.35" transform="translate(615.3 0) scale(1.58 1) translate(-615.3 0)" fill="#111">Ugt2b1</text>
<text x="615.3" y="473.17" font-size="10.9" stroke="#111" stroke-width="0.35" transform="translate(615.3 0) scale(1.58 1) translate(-615.3 0)" fill="#111">Akr1c6</text>
<text x="615.3" y="483.22" font-size="10.9" stroke="#111" stroke-width="0.35" transform="translate(615.3 0) scale(1.58 1) translate(-615.3 0)" fill="#111">Gstp1</text>
<text x="615.3" y="493.27" font-size="10.9" stroke="#111" stroke-width="0.35" transform="translate(615.3 0) scale(1.58 1) translate(-615.3 0)" fill="#111">Cyp2f2</text>
<text x="615.3" y="503.33" font-size="10.9" stroke="#111" stroke-width="0.35" transform="translate(615.3 0) scale(1.58 1) translate(-615.3 0)" fill="#111">Gsta3</text>
<text x="615.3" y="513.38" font-size="10.9" stroke="#111" stroke-width="0.35" transform="translate(615.3 0) scale(1.58 1) translate(-615.3 0)" fill="#111">Fmo5</text>
<text x="615.3" y="523.43" font-size="10.9" stroke="#111" stroke-width="0.35" transform="translate(615.3 0) scale(1.58 1) translate(-615.3 0)" fill="#111">Gsta1</text>
<text x="615.3" y="533.49" font-size="10.9" stroke="#111" stroke-width="0.35" transform="translate(615.3 0) scale(1.58 1) translate(-615.3 0)" fill="#111">Gm10639</text>
<text x="615.3" y="543.54" font-size="10.9" stroke="#111" stroke-width="0.35" transform="translate(615.3 0) scale(1.58 1) translate(-615.3 0)" fill="#111">Cyp17a1</text>
<text x="615.3" y="553.60" font-size="10.9" stroke="#111" stroke-width="0.35" transform="translate(615.3 0) scale(1.58 1) translate(-615.3 0)" fill="#111">Ugt1a5</text>
<text x="615.3" y="563.65" font-size="10.9" stroke="#111" stroke-width="0.35" transform="translate(615.3 0) scale(1.58 1) translate(-615.3 0)" fill="#111">Cyp2r1</text>
<text x="615.3" y="573.70" font-size="10.9" stroke="#111" stroke-width="0.35" transform="translate(615.3 0) scale(1.58 1) translate(-615.3 0)" fill="#111">Cyp2c38</text>
<text x="615.3" y="583.76" font-size="10.9" stroke="#111" stroke-width="0.35" transform="translate(615.3 0) scale(1.58 1) translate(-615.3 0)" fill="#111">Adh7</text>
<text x="615.3" y="593.81" font-size="10.9" stroke="#111" stroke-width="0.35" transform="translate(615.3 0) scale(1.58 1) translate(-615.3 0)" fill="#111">Cyp4b1</text>
<text x="615.3" y="603.86" font-size="10.9" stroke="#111" stroke-width="0.35" transform="translate(615.3 0) scale(1.58 1) translate(-615.3 0)" fill="#111">Cyp4a31</text>
<text x="615.3" y="613.92" font-size="10.9" stroke="#111" stroke-width="0.35" transform="translate(615.3 0) scale(1.58 1) translate(-615.3 0)" fill="#111">Maoa</text>
<text x="615.3" y="623.97" font-size="10.9" stroke="#111" stroke-width="0.35" transform="translate(615.3 0) scale(1.58 1) translate(-615.3 0)" fill="#111">Mgst3</text>
<text x="615.3" y="634.02" font-size="10.9" stroke="#111" stroke-width="0.35" transform="translate(615.3 0) scale(1.58 1) translate(-615.3 0)" fill="#111">Fmo2</text>
<text x="615.3" y="644.08" font-size="10.9" stroke="#111" stroke-width="0.35" transform="translate(615.3 0) scale(1.58 1) translate(-615.3 0)" fill="#111">Gstm5</text>
<text x="615.3" y="654.13" font-size="10.9" stroke="#111" stroke-width="0.35" transform="translate(615.3 0) scale(1.58 1) translate(-615.3 0)" fill="#111">Cyp26b1</text>
<text x="615.3" y="664.19" font-size="10.9" stroke="#111" stroke-width="0.35" transform="translate(615.3 0) scale(1.58 1) translate(-615.3 0)" fill="#111">Cyp2u1</text>
<text x="615.3" y="674.24" font-size="10.9" stroke="#111" stroke-width="0.35" transform="translate(615.3 0) scale(1.58 1) translate(-615.3 0)" fill="#111">Ugt2b38</text>
<text x="615.3" y="684.29" font-size="10.9" stroke="#111" stroke-width="0.35" transform="translate(615.3 0) scale(1.58 1) translate(-615.3 0)" fill="#111">Cyp39a1</text>
<text x="615.3" y="694.35" font-size="10.9" stroke="#111" stroke-width="0.35" transform="translate(615.3 0) scale(1.58 1) translate(-615.3 0)" fill="#111">Gstm7</text>
<text x="615.3" y="704.40" font-size="10.9" stroke="#111" stroke-width="0.35" transform="translate(615.3 0) scale(1.58 1) translate(-615.3 0)" fill="#111">Cyp4a32</text>
<text x="615.3" y="714.45" font-size="10.9" stroke="#111" stroke-width="0.35" transform="translate(615.3 0) scale(1.58 1) translate(-615.3 0)" fill="#111">Ugt1a6b</text>
<text x="615.3" y="724.51" font-size="10.9" stroke="#111" stroke-width="0.35" transform="translate(615.3 0) scale(1.58 1) translate(-615.3 0)" fill="#111">Ugt1a6a</text>
<text x="615.3" y="734.56" font-size="10.9" stroke="#111" stroke-width="0.35" transform="translate(615.3 0) scale(1.58 1) translate(-615.3 0)" fill="#111">Gsta2</text>
<text x="615.3" y="744.61" font-size="10.9" stroke="#111" stroke-width="0.35" transform="translate(615.3 0) scale(1.58 1) translate(-615.3 0)" fill="#111">Cyp26a1</text>
<text x="615.3" y="754.67" font-size="10.9" stroke="#111" stroke-width="0.35" transform="translate(615.3 0) scale(1.58 1) translate(-615.3 0)" fill="#111">Cyp7a1</text>
<text x="615.3" y="764.72" font-size="10.9" stroke="#111" stroke-width="0.35" transform="translate(615.3 0) scale(1.58 1) translate(-615.3 0)" fill="#111">Cyp3a44</text>
<text x="615.3" y="774.78" font-size="10.9" stroke="#111" stroke-width="0.35" transform="translate(615.3 0) scale(1.58 1) translate(-615.3 0)" fill="#111">Cyp2c65</text>
<text x="615.3" y="784.83" font-size="10.9" stroke="#111" stroke-width="0.35" transform="translate(615.3 0) scale(1.58 1) translate(-615.3 0)" fill="#111">Gm3776</text>
<text x="615.3" y="794.88" font-size="10.9" stroke="#111" stroke-width="0.35" transform="translate(615.3 0) scale(1.58 1) translate(-615.3 0)" fill="#111">Ptgis</text>
<text x="615.3" y="804.94" font-size="10.9" stroke="#111" stroke-width="0.35" transform="translate(615.3 0) scale(1.58 1) translate(-615.3 0)" fill="#111">Cyp2c39</text>
<text x="615.3" y="814.99" font-size="10.9" stroke="#111" stroke-width="0.35" transform="translate(615.3 0) scale(1.58 1) translate(-615.3 0)" fill="#111">Cyp1a1</text>
<text x="615.3" y="825.04" font-size="10.9" stroke="#111" stroke-width="0.35" transform="translate(615.3 0) scale(1.58 1) translate(-615.3 0)" fill="#111">Ugt2b37</text>
<text x="615.3" y="835.10" font-size="10.9" stroke="#111" stroke-width="0.35" transform="translate(615.3 0) scale(1.58 1) translate(-615.3 0)" fill="#111">Tbxas1</text>
<text x="615.3" y="845.15" font-size="10.9" stroke="#111" stroke-width="0.35" transform="translate(615.3 0) scale(1.58 1) translate(-615.3 0)" fill="#111">Gstp2</text>
<text x="615.3" y="855.20" font-size="10.9" stroke="#111" stroke-width="0.35" transform="translate(615.3 0) scale(1.58 1) translate(-615.3 0)" fill="#111">Fmo4</text>
<text x="615.3" y="865.26" font-size="10.9" stroke="#111" stroke-width="0.35" transform="translate(615.3 0) scale(1.58 1) translate(-615.3 0)" fill="#111">Aldh3b1</text>
<text x="615.3" y="875.31" font-size="10.9" stroke="#111" stroke-width="0.35" transform="translate(615.3 0) scale(1.58 1) translate(-615.3 0)" fill="#111">Cyp21a1</text>
<text x="615.3" y="885.37" font-size="10.9" stroke="#111" stroke-width="0.35" transform="translate(615.3 0) scale(1.58 1) translate(-615.3 0)" fill="#111">Cyp26c1</text>
<text x="615.3" y="895.42" font-size="10.9" stroke="#111" stroke-width="0.35" transform="translate(615.3 0) scale(1.58 1) translate(-615.3 0)" fill="#111">Cyp2s1</text>
<text x="615.3" y="905.47" font-size="10.9" stroke="#111" stroke-width="0.35" transform="translate(615.3 0) scale(1.58 1) translate(-615.3 0)" fill="#111">Cyp46a1</text>
<defs><linearGradient id="cb" x1="0" y1="1" x2="0" y2="0">
<stop offset="0.0000" stop-color="#3850a4"/>
<stop offset="0.0833" stop-color="#5a76b8"/>
<stop offset="0.1667" stop-color="#8aa8d0"/>
<stop offset="0.2500" stop-color="#b8cde2"/>
<stop offset="0.3333" stop-color="#e3eff4"/>
<stop offset="0.4167" stop-color="#f0f6dc"/>
<stop offset="0.5000" stop-color="#f9f9b6"/>
<stop offset="0.5833" stop-color="#f7efa0"/>
<stop offset="0.6667" stop-color="#f1dc84"/>
<stop offset="0.7500" stop-color="#e8b066"/>
<stop offset="0.8333" stop-color="#e1824a"/>
<stop offset="0.9167" stop-color="#cd5a3c"/>
<stop offset="1.0000" stop-color="#a52525"/>
</linearGradient></defs>
<rect x="706.0" y="81.4" width="20.6" height="214.8" fill="url(#cb)"/>
<text x="736.5" y="87.3" font-size="13" stroke="#111" stroke-width="0.3" transform="translate(736.5 0) scale(1.52 1) translate(-736.5 0)" fill="#111">15</text>
<text x="736.5" y="137.1" font-size="13" stroke="#111" stroke-width="0.3" transform="translate(736.5 0) scale(1.52 1) translate(-736.5 0)" fill="#111">10</text>
<text x="736.5" y="187.2" font-size="13" stroke="#111" stroke-width="0.3" transform="translate(736.5 0) scale(1.52 1) translate(-736.5 0)" fill="#111">5</text>
<text x="736.5" y="237.4" font-size="13" stroke="#111" stroke-width="0.3" transform="translate(736.5 0) scale(1.52 1) translate(-736.5 0)" fill="#111">0</text>
<text x="736.5" y="287.3" font-size="13" stroke="#111" stroke-width="0.3" transform="translate(736.5 0) scale(1.52 1) translate(-736.5 0)" fill="#111">-5</text>
<path d="M107.70 86.63V96.68M107.70 86.63H120.30M107.70 96.68H120.30M116.90 116.79V126.84M116.90 116.79H120.30M116.90 126.84H120.30M113.50 106.73V121.81M113.50 106.73H120.30M113.50 121.81H116.90M118.30 157.00V167.06M118.30 157.00H120.30M118.30 167.06H120.30M115.10 146.95V162.03M115.10 146.95H120.30M115.10 162.03H118.30M118.60 177.11V187.16M118.60 177.11H120.30M118.60 187.16H120.30M119.00 207.27V217.32M119.00 207.27H120.30M119.00 217.32H120.30M117.60 197.22V212.30M117.60 197.22H120.30M117.60 212.30H119.00M113.80 182.14V204.76M113.80 182.14H118.60M113.80 204.76H117.60M113.10 154.49V193.45M113.10 154.49H115.10M113.10 193.45H113.80M110.90 136.90V173.97M110.90 136.90H120.30M110.90 173.97H113.10M119.00 237.43V247.49M119.00 237.43H120.30M119.00 247.49H120.30M119.00 257.54V267.59M119.00 257.54H120.30M119.00 267.59H120.30M116.20 242.46V262.57M116.20 242.46H119.00M116.20 262.57H119.00M109.00 227.38V252.51M109.00 227.38H120.30M109.00 252.51H116.20M105.20 155.43V239.95M105.20 155.43H110.90M105.20 239.95H109.00M104.30 114.27V197.69M104.30 114.27H113.50M104.30 197.69H105.20M89.40 91.65V155.98M89.40 91.65H107.70M89.40 155.98H104.30M117.40 287.70V297.75M117.40 287.70H120.30M117.40 297.75H120.30M114.00 277.65V292.73M114.00 277.65H120.30M114.00 292.73H117.40M117.10 317.86V327.91M117.10 317.86H120.30M117.10 327.91H120.30M110.90 307.81V322.89M110.90 307.81H120.30M110.90 322.89H117.10M107.10 285.19V315.35M107.10 285.19H114.00M107.10 315.35H110.90M119.50 358.08V368.13M119.50 358.08H120.30M119.50 368.13H120.30M117.70 348.02V363.10M117.70 348.02H120.30M117.70 363.10H119.50M115.80 337.97V355.56M115.80 337.97H120.30M115.80 355.56H117.70M119.00 398.29V408.34M119.00 398.29H120.30M119.00 408.34H120.30M116.60 388.24V403.32M116.60 388.24H120.30M116.60 403.32H119.00M115.40 378.18V395.78M115.40 378.18H120.30M115.40 395.78H116.60M112.40 346.77V386.98M112.40 346.77H115.80M112.40 386.98H115.40M118.50 418.40V428.45M118.50 418.40H120.30M118.50 428.45H120.30M119.00 448.56V458.61M119.00 448.56H120.30M119.00 458.61H120.30M117.00 438.50V453.59M117.00 438.50H120.30M117.00 453.59H119.00M115.40 423.42V446.05M115.40 423.42H118.50M115.40 446.05H117.00M119.00 478.72V488.77M119.00 478.72H120.30M119.00 488.77H120.30M116.50 468.67V483.75M116.50 468.67H120.30M116.50 483.75H119.00M118.00 498.83V508.88M118.00 498.83H120.30M118.00 508.88H120.30M112.80 476.21V503.85M112.80 476.21H116.50M112.80 503.85H118.00M111.20 434.73V490.03M111.20 434.73H115.40M111.20 490.03H112.80M101.80 366.87V462.38M101.80 366.87H112.40M101.80 462.38H111.20M88.60 300.27V414.63M88.60 300.27H107.10M88.60 414.63H101.80M71.10 123.82V357.45M71.10 123.82H89.40M71.10 357.45H88.60M106.90 518.93V528.99M106.90 518.93H120.30M106.90 528.99H120.30M116.30 549.10V559.15M116.30 549.10H120.30M116.30 559.15H120.30M111.30 539.04V554.12M111.30 539.04H120.30M111.30 554.12H116.30M118.50 579.26V589.31M118.50 579.26H120.30M118.50 589.31H120.30M116.00 569.20V584.28M116.00 569.20H120.30M116.00 584.28H118.50M119.50 629.52V639.58M119.50 629.52H120.30M119.50 639.58H120.30M118.50 619.47V634.55M118.50 619.47H120.30M118.50 634.55H119.50M117.40 609.42V627.01M117.40 609.42H120.30M117.40 627.01H118.50M112.20 599.36V618.21M112.20 599.36H120.30M112.20 618.21H117.40M110.50 576.74V608.79M110.50 576.74H116.00M110.50 608.79H112.20M109.00 546.58V592.77M109.00 546.58H111.30M109.00 592.77H110.50M115.00 659.69V669.74M115.00 659.69H120.30M115.00 669.74H120.30M107.00 649.63V664.71M107.00 649.63H120.30M107.00 664.71H115.00M104.70 569.67V657.17M104.70 569.67H109.00M104.70 657.17H107.00M115.30 679.79V689.85M115.30 679.79H120.30M115.30 689.85H120.30M118.30 709.95V720.01M118.30 709.95H120.30M118.30 720.01H120.30M115.70 699.90V714.98M115.70 699.90H120.30M115.70 714.98H118.30M113.60 684.82V707.44M113.60 684.82H115.30M113.60 707.44H115.70M106.30 740.11V750.17M106.30 740.11H120.30M106.30 750.17H120.30M105.90 730.06V745.14M105.90 730.06H120.30M105.90 745.14H106.30M102.90 696.13V737.60M102.90 696.13H113.60M102.90 737.60H105.90M94.20 613.42V716.87M94.20 613.42H104.70M94.20 716.87H102.90M80.50 523.96V665.14M80.50 523.96H106.90M80.50 665.14H94.20M110.70 770.28V780.33M110.70 770.28H120.30M110.70 780.33H120.30M97.20 760.22V775.30M97.20 760.22H120.30M97.20 775.30H110.70M116.30 800.44V810.49M116.30 800.44H120.30M116.30 810.49H120.30M112.30 790.38V805.46M112.30 790.38H120.30M112.30 805.46H116.30M115.50 820.54V830.60M115.50 820.54H120.30M115.50 830.60H120.30M118.00 850.70V860.76M118.00 850.70H120.30M118.00 860.76H120.30M115.50 840.65V855.73M115.50 840.65H120.30M115.50 855.73H118.00M111.20 825.57V848.19M111.20 825.57H115.50M111.20 848.19H115.50M105.80 797.92V836.88M105.80 797.92H112.30M105.80 836.88H111.20M112.30 890.92V900.97M112.30 890.92H120.30M112.30 900.97H120.30M108.30 880.87V895.95M108.30 880.87H120.30M108.30 895.95H112.30M104.20 870.81V888.41M104.20 870.81H120.30M104.20 888.41H108.30M90.50 817.40V879.61M90.50 817.40H105.80M90.50 879.61H104.20M76.70 767.76V848.51M76.70 767.76H97.20M76.70 848.51H90.50M57.30 594.55V808.13M57.30 594.55H80.50M57.30 808.13H76.70M10.00 240.63V701.34M10.00 240.63H71.10M10.00 701.34H57.30" stroke="#000" stroke-width="1.8" fill="none" stroke-linecap="square"/><path d="M142.51 67.00H186.93M142.51 67.00V81.60M186.93 67.00V81.60M231.35 65.90H275.76M231.35 65.90V81.60M275.76 65.90V81.60M320.18 65.20H364.60M320.18 65.20V81.60M364.60 65.20V81.60M253.55 55.30H342.39M253.55 55.30V65.90M342.39 55.30V65.20M164.72 53.60H297.97M164.72 53.60V67.00M297.97 53.60V55.30M409.02 62.40H453.44M409.02 62.40V81.60M453.44 62.40V81.60M542.27 68.70H586.69M542.27 68.70V81.60M586.69 68.70V81.60M497.85 61.00H564.48M497.85 61.00V81.60M564.48 61.00V68.70M431.23 51.10H531.17M431.23 51.10V62.40M531.17 51.10V61.00M231.35 6.30H481.20M231.35 6.30V53.60M481.20 6.30V51.10" stroke="#000" stroke-width="1.8" fill="none" stroke-linecap="square"/>
<rect x="132.1" y="936" width="237" height="2.6" fill="#000"/>
<rect x="404.4" y="935" width="191.5" height="2.7" fill="#000"/>
<text x="197.3" y="968.2" font-size="30" font-weight="bold" stroke="#000" stroke-width="0.3" textLength="113.3" lengthAdjust="spacingAndGlyphs">Baseline</text>
<text x="414" y="969.8" font-size="30.5" font-weight="bold" stroke="#000" stroke-width="0.3" textLength="173.7" lengthAdjust="spacingAndGlyphs">PB induction</text>
<text transform="translate(153.0 1040.5) rotate(-90)" x="0" y="0" font-size="25.1" font-weight="bold" textLength="37.5" lengthAdjust="spacingAndGlyphs">WT</text>
<text transform="translate(195.6 1040.5) rotate(-90)" x="0" y="0" font-size="24.6" font-weight="bold" textLength="37.5" lengthAdjust="spacingAndGlyphs">WT</text>
<text transform="translate(239.0 1040.5) rotate(-90)" x="0" y="0" font-size="23.7" font-weight="bold" textLength="37.5" lengthAdjust="spacingAndGlyphs">WT</text>
<text transform="translate(283.0 1039.0) rotate(-90)" x="0" y="0" font-size="25.8" font-weight="bold" textLength="36.4" lengthAdjust="spacingAndGlyphs">AIP</text>
<text transform="translate(326.4 1039.0) rotate(-90)" x="0" y="0" font-size="25.1" font-weight="bold" textLength="36.4" lengthAdjust="spacingAndGlyphs">AIP</text>
<text transform="translate(369.5 1039.0) rotate(-90)" x="0" y="0" font-size="24.6" font-weight="bold" textLength="36.4" lengthAdjust="spacingAndGlyphs">AIP</text>
<text transform="translate(424.0 1037.5) rotate(-90)" x="0" y="0" font-size="25.8" font-weight="bold" textLength="36.5" lengthAdjust="spacingAndGlyphs">AIP</text>
<text transform="translate(469.0 1037.5) rotate(-90)" x="0" y="0" font-size="25.7" font-weight="bold" textLength="36.5" lengthAdjust="spacingAndGlyphs">AIP</text>
<text transform="translate(512.4 1039.8) rotate(-90)" x="0" y="0" font-size="23.7" font-weight="bold" textLength="31.8" lengthAdjust="spacingAndGlyphs">WT</text>
<text transform="translate(558.2 1039.8) rotate(-90)" x="0" y="0" font-size="26.1" font-weight="bold" textLength="31.8" lengthAdjust="spacingAndGlyphs">WT</text>
<text transform="translate(605.7 1039.8) rotate(-90)" x="0" y="0" font-size="25.1" font-weight="bold" textLength="31.8" lengthAdjust="spacingAndGlyphs">WT</text>
</svg></body></html>
